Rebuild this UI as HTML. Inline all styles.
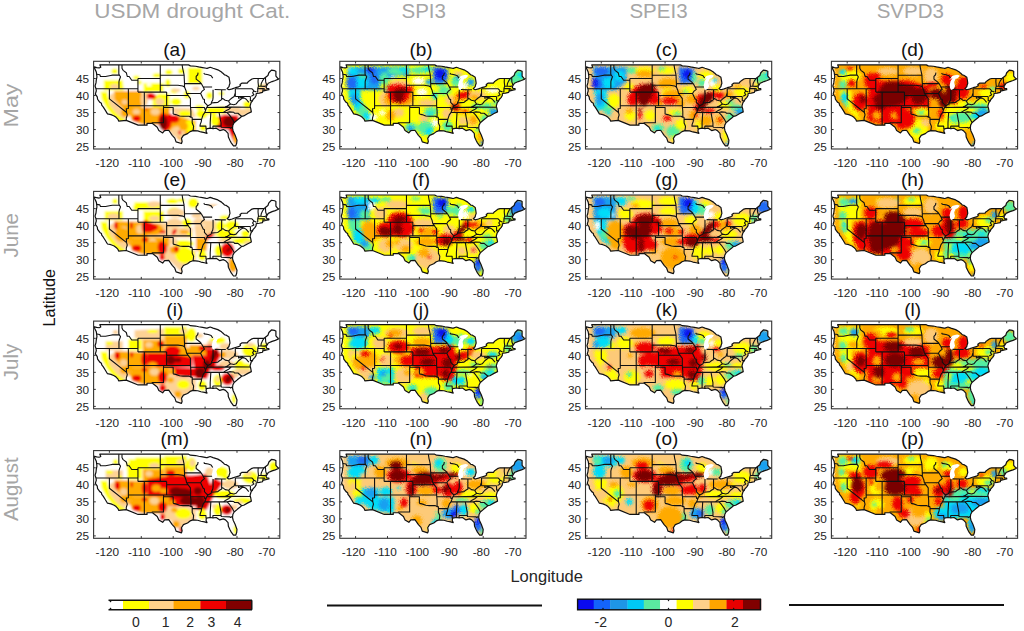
<!DOCTYPE html><html><head><meta charset="utf-8"><style>
html,body{margin:0;padding:0;background:#fff;width:1024px;height:631px;overflow:hidden}
svg{display:block;font-family:"Liberation Sans",sans-serif}
.t{font-size:11.8px;fill:#262626}#ol,#lk,#st{vector-effect:non-scaling-stroke}
.pl{font-size:19px;fill:#111}
.ct{font-size:20.5px;fill:#a6a6a6}
</style></head><body>
<svg width="1024" height="631" viewBox="0 0 1024 631">
<defs>
<clipPath id="us" clipPathUnits="userSpaceOnUse"><path d="M-124.7,48.4 -124.6,47.9 -124.1,46.9 -124,46.3 -123.9,45.5 -124.1,44.6 -124.2,43.7 -124.5,42.8 -124.2,42 -124.1,41.4 -124.4,40.4 -123.8,39.6 -123.7,38.9 -123,38 -122.5,37.7 -122.4,37.2 -121.9,36.6 -121.3,35.7 -120.6,34.6 -119.5,34.4 -118.5,34 -117.9,33.6 -117.3,33 -117.1,32.5 -114.7,32.7 -111,31.3 -108.2,31.3 -108.2,31.8 -106.5,31.8 -105,30.7 -104.5,29.7 -103.3,29 -102.7,29.7 -101.4,29.8 -100.3,28.3 -99.5,27.5 -99.1,26.4 -97.4,25.9 -97.2,26.5 -97.4,27.4 -96.8,28.3 -95.5,28.8 -94.7,29.4 -93.8,29.7 -92.3,29.6 -91.3,29.3 -90.2,29.1 -89.4,28.9 -89.7,29.5 -89.6,30.2 -88.4,30.4 -87.5,30.3 -86.5,30.4 -85.4,29.7 -84.3,30 -83.6,29.7 -82.8,28.9 -82.7,27.8 -82.2,26.8 -81.8,26.1 -81.1,25.2 -80.4,25.2 -80.1,26 -80,26.9 -80.6,28.4 -81.2,29.6 -81.4,30.4 -81.3,31.3 -80.9,32 -79.9,32.8 -79.1,33.4 -78.5,33.9 -77.9,34 -76.6,34.7 -75.5,35.2 -75.7,36.2 -75.9,36.9 -75.6,37.9 -75.1,38.5 -75,38.8 -74.9,38.9 -74.4,39.4 -74,40 -74,40.5 -73.9,40.6 -73,40.7 -72,40.9 -71.9,41.3 -71,41.5 -70.7,41.6 -70,41.7 -70,42 -70.6,42 -70.9,42.5 -70.6,43 -70.2,43.6 -69,44.1 -68,44.4 -67,44.8 -67.8,45.7 -67.8,47.1 -68.2,47.3 -69.2,47.45 -70,46.7 -70.3,45.9 -71.1,45.3 -71.5,45 -74.7,45 -75.3,44.85 -76.2,44.25 -76.45,44.1 -76.8,43.65 -77.5,43.63 -78.5,43.63 -79.05,43.26 -78.9,42.9 -79.5,42.55 -80.5,42.3 -81.5,41.95 -82.5,41.7 -83.1,42 -82.5,42.6 -82.42,43 -82.2,43.6 -82.3,44.3 -82.5,45.35 -83.45,45.95 -83.9,46.05 -84.1,46.25 -84.35,46.5 -84.55,46.6 -84.85,46.9 -86,47.55 -87.5,48 -88.4,48.3 -89.35,47.97 -89.6,48 -90.8,48.2 -92,48.4 -93,48.6 -94.6,48.7 -95.2,49 -123,49 -122.7,48.3 -123.2,48.1 -124,48.2Z"/></clipPath>
<path id="ol" d="M-124.7,48.4 -124.6,47.9 -124.1,46.9 -124,46.3 -123.9,45.5 -124.1,44.6 -124.2,43.7 -124.5,42.8 -124.2,42 -124.1,41.4 -124.4,40.4 -123.8,39.6 -123.7,38.9 -123,38 -122.5,37.7 -122.4,37.2 -121.9,36.6 -121.3,35.7 -120.6,34.6 -119.5,34.4 -118.5,34 -117.9,33.6 -117.3,33 -117.1,32.5 -114.7,32.7 -111,31.3 -108.2,31.3 -108.2,31.8 -106.5,31.8 -105,30.7 -104.5,29.7 -103.3,29 -102.7,29.7 -101.4,29.8 -100.3,28.3 -99.5,27.5 -99.1,26.4 -97.4,25.9 -97.2,26.5 -97.4,27.4 -96.8,28.3 -95.5,28.8 -94.7,29.4 -93.8,29.7 -92.3,29.6 -91.3,29.3 -90.2,29.1 -89.4,28.9 -89.7,29.5 -89.6,30.2 -88.4,30.4 -87.5,30.3 -86.5,30.4 -85.4,29.7 -84.3,30 -83.6,29.7 -82.8,28.9 -82.7,27.8 -82.2,26.8 -81.8,26.1 -81.1,25.2 -80.4,25.2 -80.1,26 -80,26.9 -80.6,28.4 -81.2,29.6 -81.4,30.4 -81.3,31.3 -80.9,32 -79.9,32.8 -79.1,33.4 -78.5,33.9 -77.9,34 -76.6,34.7 -75.5,35.2 -75.7,36.2 -75.9,36.9 -75.6,37.9 -75.1,38.5 -75,38.8 -74.9,38.9 -74.4,39.4 -74,40 -74,40.5 -73.9,40.6 -73,40.7 -72,40.9 -71.9,41.3 -71,41.5 -70.7,41.6 -70,41.7 -70,42 -70.6,42 -70.9,42.5 -70.6,43 -70.2,43.6 -69,44.1 -68,44.4 -67,44.8 -67.8,45.7 -67.8,47.1 -68.2,47.3 -69.2,47.45 -70,46.7 -70.3,45.9 -71.1,45.3 -71.5,45 -74.7,45 -75.3,44.85 -76.2,44.25 -76.45,44.1 -76.8,43.65 -77.5,43.63 -78.5,43.63 -79.05,43.26 -78.9,42.9 -79.5,42.55 -80.5,42.3 -81.5,41.95 -82.5,41.7 -83.1,42 -82.5,42.6 -82.42,43 -82.2,43.6 -82.3,44.3 -82.5,45.35 -83.45,45.95 -83.9,46.05 -84.1,46.25 -84.35,46.5 -84.55,46.6 -84.85,46.9 -86,47.55 -87.5,48 -88.4,48.3 -89.35,47.97 -89.6,48 -90.8,48.2 -92,48.4 -93,48.6 -94.6,48.7 -95.2,49 -123,49 -122.7,48.3 -123.2,48.1 -124,48.2Z"/>
<path id="lk" d="M-84.75,45.78 -85,45.45 -85.5,45 -86,44.9 -86.45,43.95 -86.3,43.2 -86.2,42.8 -86.5,42.1 -86.9,41.7 -87.3,41.6 -87.6,41.85 -87.8,42.35 -87.9,43.05 -87.7,43.75 -87.65,44.1 -86.95,45.25 -87.6,44.8 -88,44.55 -87.6,45.1 -87.05,45.75 -86.25,45.95 -85.5,46.1 -84.75,45.9Z"/>
<path id="st" d="M-124,46.25 -123,46.1 -122.8,45.6 -121.2,45.6 -119.6,45.9 -119,46 -116.9,46M-116.9,46 -116.5,45.5 -116.9,44.5 -117,44 -117,42M-117.04,49 -117.04,46.4 -116.9,46M-124.2,42 -111.05,42M-120,42 -120,39 -114.6,35M-114.05,42 -114.05,36.2 -114.7,36.1 -114.6,35 -114.4,34.3 -114.7,33.4 -114.7,32.7M-116.05,49 -116.05,48 -115.7,47.4 -114.7,46.7 -114.4,45.6 -113.8,45.6 -113,44.5 -112.3,44.5 -111.05,44.5M-111.05,45 -111.05,41M-111.05,45 -104.05,45M-111.05,41 -102.05,41M-109.05,41 -109.05,31.33M-114.05,37 -94.6,37M-104.05,49 -104.05,41M-104.05,45.94 -96.56,45.94M-104.05,43 -98.5,43 -97,42.8 -96.45,42.5M-102.05,40 -95.3,40M-102.05,41 -102.05,37M-103,37 -103,36.5 -100,36.5 -100,34.56M-103.05,36.5 -103.05,32 -106.6,32 -106.6,31.85M-100,34.56 -99.2,34.4 -98,34 -96.9,33.9 -95,33.9 -94.5,33.6 -94.04,33.6M-94.04,33.6 -94.04,31.9 -93.6,31 -93.7,30.1 -93.8,29.7M-94.04,33 -91.1,33M-91.1,33 -91.2,32.3 -91.5,31.6 -91.6,31 -89.75,31 -89.7,30.2M-94.6,37 -94.45,35.4 -94.45,33.6M-94.6,36.5 -90.15,36.5 -90.1,36 -89.7,36M-94.6,37 -94.6,39.1 -95,39.6 -95.3,40M-95.3,40 -95.8,40.6 -96,41.5 -96.45,42.5M-96.45,42.5 -96.45,43.5 -96.55,45.3 -96.56,45.94M-96.56,45.94 -96.8,47 -97,47.8 -97.2,49M-96.45,43.5 -91.2,43.5M-95.8,40.6 -91.4,40.6M-91.4,40.6 -91.1,40 -90.6,39 -90.2,38.8 -90.2,38 -89.5,37.3 -89.1,37M-91.4,40.6 -91,41.2 -90.2,41.8 -90.6,42.5 -91.2,43.5M-91.2,43.5 -91.7,44 -92.8,44.8 -92.8,45.6 -92.3,46.1 -92.2,46.7M-90.6,42.5 -87.8,42.5M-90.4,46.6 -90.2,46.3 -89,46.1 -88.1,45.8 -87.6,45.1M-87.5,41.7 -87.5,39.4 -87.6,38.7 -88,38 -88.1,37.5M-88.1,37.5 -89.1,37M-88.1,37.8 -87,37.9 -86,38 -85.5,38.4 -84.8,38.8 -84.8,39.1M-84.82,39.1 -84.8,41.7M-87,41.76 -84.8,41.7M-84.8,41.7 -83.5,41.7M-84.8,39.1 -84.4,39.1 -83.7,38.6 -82.6,38.4M-82.6,38.4 -82.2,38.8 -81.7,39.2 -80.9,39.7 -80.6,40.6M-80.52,40.6 -80.52,42M-82.6,38.4 -82.4,37.9 -82,37.5 -83,36.9 -83.7,36.6M-89.5,36.5 -81.7,36.6M-89.1,37 -89.5,36.5 -89.7,36 -90.1,35 -90.6,34.4 -91.1,33M-90.3,35 -84.3,35M-88.2,35 -88.4,32 -88.4,30.4M-85.6,35 -85.2,32.9 -85,32 -85,31M-87.6,31 -85,31M-87.6,31 -87.5,30.3M-85,31 -84.9,30.7 -82.2,30.6 -82,30.4 -81.5,30.7M-84.3,35 -83.5,35.5 -82.5,36 -81.7,36.6M-84.3,35 -83.1,35M-83.1,35 -82.4,34.3 -81.4,33 -80.9,32.1M-83.1,35 -82.3,35.2 -81,35.1 -80.8,34.8 -79.7,34.8 -78.5,33.85M-81.7,36.6 -75.9,36.55M-82,37.5 -81,37.3 -80.3,37.5 -79.5,38.4 -78.4,39.2 -77.8,39.3M-77.8,39.3 -78.5,39.5 -79.5,39.2 -79.5,39.72M-80.52,39.72 -79.5,39.72M-80.52,39.72 -80.52,40.6M-79.5,39.72 -75.8,39.72M-77.8,39.3 -77.1,38.9 -76.3,38M-75.8,39.72 -75.8,38.45 -75.05,38.45M-75.5,39.8 -74.7,40.2 -75.1,40.8 -74.7,41.35M-80.52,42 -75.35,42 -75.1,41.8 -74.7,41.35M-74.7,41.35 -73.9,41M-73.7,40.95 -73.5,41.1 -73.5,42.05 -73.26,42.75 -73.4,44 -73.35,45M-73.5,42.05 -71.8,42.02 -71.4,42 -71.1,41.5M-71.8,42.02 -71.85,41.33M-73.26,42.75 -72.5,42.73 -71.3,42.7 -70.8,42.87M-72.5,42.73 -72.4,43.5 -72,44.3 -71.5,45M-70.7,43.1 -71,44 -71.08,45.3"/>
<filter id="bl" x="-5%" y="-5%" width="110%" height="110%"><feGaussianBlur stdDeviation="0.9"/></filter>
<filter id="tx" x="-5%" y="-5%" width="110%" height="110%" color-interpolation-filters="sRGB"><feGaussianBlur stdDeviation="1.6" result="b"/><feTurbulence type="fractalNoise" baseFrequency="0.9" numOctaves="1" seed="7" result="n"/><feDisplacementMap in="b" in2="n" scale="5" xChannelSelector="R" yChannelSelector="G"/></filter>
</defs>
<g transform="translate(492.19,231.72) scale(3.19,-3.405)">
<g clip-path="url(#us)"><g transform="scale(0.31,-0.29) translate(-492.19,-231.72)" filter="url(#bl)">
<rect x="91.6" y="59.3" width="190.2" height="91.7" fill="#ffffff"/>
<path d="M99.48,78.35 118.65,78.35 119.57,88.39 99.48,88.39Z" fill="#ffff00"/>
<path d="M139.65,81.09 159.74,81.09 159.74,90.22 139.65,90.22Z" fill="#ffff00"/>
<path d="M184.39,65.57 199,65.57 199,82 184.39,82Z" fill="#ffff00"/>
<path d="M96.19,89.85 102.77,89.85 105.32,101.18 112.26,111.77 121.39,117.98 121.39,121.26 115.91,121.26 108.61,114.87 102.22,106.65 97.29,97.52Z" fill="#ffff00"/>
<path d="M104.96,93.87 110.44,90.22 110.44,97.52 125.04,113.96 119.57,117.61 112.26,112.13 104.96,103Z" fill="#fdd295"/>
<path d="M110.07,89.31 137.83,89.31 137.83,105.74 128.7,105.74 126.51,109.39 125.96,114.87 110.07,97.52Z" fill="#ffaa00"/>
<path d="M126.87,105.74 166.13,105.74 166.13,124 148.78,123.45 137.83,123.09 127.78,119.44 125.96,113.96Z" fill="#ffaa00"/>
<path d="M154.26,92.04 166.13,92.04 166.13,105.74 148.78,105.74 148.78,97.52Z" fill="#ffff00"/>
<path d="M165.22,105.74 188.96,106.65 192.61,115.78 179.83,115.78 172.52,113.96Z" fill="#fdd295"/>
<path d="M154.26,113.96 172.52,113.96 192.61,119.44 192.61,130.39 183.48,137.7 179.83,143.18 174.35,137.7 167.05,130.39 157.92,128.57Z" fill="#ffaa00"/>
<path d="M203.57,105.74 221.83,104.83 221.83,112.13 203.57,113.05Z" fill="#ffff00"/>
<path d="M221.83,105.74 238.27,104.83 234.61,111.22 221.83,111.22Z" fill="#fdd295"/>
<path d="M232.79,107.57 251.05,106.65 251.05,111.22 240.09,114.87 232.79,113.05Z" fill="#fdd295"/>
<path d="M212.7,115.78 221.83,113.05 234.61,113.96 238.27,121.26 236.44,126.74 234.61,141.35 230.05,139.52 225.48,128.57 218.18,127.65 212.7,125.83Z" fill="#ee0000"/>
<ellipse cx="145.13" cy="82.91" rx="2.74" ry="1.46" fill="#ffffff"/>
<ellipse cx="110.44" cy="69.22" rx="3.29" ry="2.74" fill="#ffff00"/>
<ellipse cx="132.35" cy="75.61" rx="3.29" ry="2.19" fill="#ffff00"/>
<ellipse cx="135.64" cy="80.72" rx="2.19" ry="2.19" fill="#ffff00"/>
<ellipse cx="153.35" cy="73.42" rx="4.57" ry="2.19" fill="#ffff00"/>
<ellipse cx="165.22" cy="70.13" rx="3.65" ry="2.74" fill="#ffff00"/>
<ellipse cx="178" cy="69.22" rx="3.65" ry="2.74" fill="#ffff00"/>
<ellipse cx="164.31" cy="81.09" rx="2.74" ry="4.02" fill="#ffff00"/>
<ellipse cx="170.7" cy="89.31" rx="3.65" ry="2.56" fill="#ffff00"/>
<ellipse cx="183.48" cy="92.96" rx="3.29" ry="4.02" fill="#ffff00"/>
<ellipse cx="172.52" cy="100.26" rx="5.48" ry="4.02" fill="#ffff00"/>
<ellipse cx="196.26" cy="105.74" rx="4.57" ry="2.56" fill="#ffff00"/>
<ellipse cx="198.09" cy="112.13" rx="5.48" ry="4.02" fill="#ffff00"/>
<ellipse cx="141.85" cy="92.04" rx="1.83" ry="1.83" fill="#ffff00"/>
<ellipse cx="181.66" cy="112.13" rx="6.39" ry="3.29" fill="#ffff00"/>
<ellipse cx="186.22" cy="124.92" rx="5.48" ry="6.39" fill="#ffff00"/>
<ellipse cx="199" cy="113.96" rx="5.11" ry="3.29" fill="#ffff00"/>
<ellipse cx="199.92" cy="126.74" rx="3.65" ry="3.29" fill="#ffff00"/>
<ellipse cx="211.79" cy="119.44" rx="4.57" ry="5.84" fill="#ffff00"/>
<ellipse cx="206.31" cy="93.87" rx="3.29" ry="3.65" fill="#ffff00"/>
<ellipse cx="218.18" cy="91.68" rx="3.29" ry="1.83" fill="#ffff00"/>
<ellipse cx="244.66" cy="103" rx="4.57" ry="4.02" fill="#ffff00"/>
<ellipse cx="210.87" cy="115.78" rx="2.74" ry="4.57" fill="#ffff00"/>
<ellipse cx="258.35" cy="84.74" rx="2.74" ry="2.74" fill="#ffff00"/>
<ellipse cx="110.44" cy="84.74" rx="4.57" ry="2.74" fill="#fdd295"/>
<ellipse cx="172.52" cy="88.39" rx="4.57" ry="1.83" fill="#fdd295"/>
<ellipse cx="192.61" cy="86.57" rx="3.65" ry="1.83" fill="#fdd295"/>
<ellipse cx="120.48" cy="100.26" rx="2.74" ry="2.56" fill="#fdd295"/>
<ellipse cx="140.57" cy="97.52" rx="3.65" ry="7.3" fill="#fdd295"/>
<ellipse cx="132.35" cy="110.31" rx="3.65" ry="2.56" fill="#fdd295"/>
<ellipse cx="151.52" cy="110.31" rx="4.57" ry="3.29" fill="#fdd295"/>
<ellipse cx="156.09" cy="100.26" rx="4.57" ry="4.02" fill="#fdd295"/>
<ellipse cx="174.35" cy="130.39" rx="7.3" ry="5.48" fill="#fdd295"/>
<ellipse cx="179.83" cy="137.7" rx="3.65" ry="4.57" fill="#fdd295"/>
<ellipse cx="262.01" cy="86.57" rx="7.3" ry="4.02" fill="#fdd295" transform="rotate(-40 262.01 86.57)"/>
<ellipse cx="121.39" cy="111.22" rx="4.57" ry="4.57" fill="#ffaa00"/>
<ellipse cx="232.79" cy="137.7" rx="2.74" ry="5.48" fill="#ffaa00"/>
<ellipse cx="179.83" cy="124.92" rx="4.57" ry="4.57" fill="#ffaa00"/>
<ellipse cx="132.71" cy="117.06" rx="4.02" ry="2.92" fill="#ee0000"/>
<ellipse cx="142.39" cy="108.11" rx="1.1" ry="1.28" fill="#ee0000"/>
<ellipse cx="148.78" cy="94.78" rx="3.29" ry="2.74" fill="#ee0000"/>
<ellipse cx="159.74" cy="119.44" rx="5.11" ry="8.22" fill="#ee0000"/>
<ellipse cx="166.13" cy="116.7" rx="3.29" ry="4.57" fill="#ee0000"/>
<ellipse cx="172.89" cy="117.61" rx="2.92" ry="3.29" fill="#ee0000"/>
<ellipse cx="176.18" cy="131.31" rx="1.46" ry="2.19" fill="#ee0000"/>
<ellipse cx="161.57" cy="129.48" rx="1.83" ry="1.83" fill="#ee0000"/>
<ellipse cx="161.57" cy="121.26" rx="6.39" ry="8.22" fill="#ee0000"/>
<ellipse cx="170.7" cy="117.61" rx="4.57" ry="4.02" fill="#ee0000"/>
<ellipse cx="146.59" cy="94.24" rx="3.65" ry="3.29" fill="#ee0000"/>
<ellipse cx="159.38" cy="122.18" rx="2.92" ry="5.84" fill="#7a0000"/>
<ellipse cx="226.4" cy="120.35" rx="6.39" ry="5.48" fill="#7a0000"/>
<ellipse cx="159.74" cy="121.26" rx="4.02" ry="6.94" fill="#7a0000"/>
</g></g>
<use href="#lk" fill="#fff"/>
<use href="#st" fill="none" stroke="#111" stroke-width="1.1" stroke-linejoin="round"/>
<use href="#ol" fill="none" stroke="#111" stroke-width="1.2" stroke-linejoin="round"/>
</g>
<rect x="93.6" y="61.3" width="186.2" height="87.7" fill="none" stroke="#333" stroke-width="1.1"/>
<path d="M109.39,61.3v2.2M109.39,149v-2.2M141.29,61.3v2.2M141.29,149v-2.2M173.19,61.3v2.2M173.19,149v-2.2M205.09,61.3v2.2M205.09,149v-2.2M236.99,61.3v2.2M236.99,149v-2.2M268.89,61.3v2.2M268.89,149v-2.2M93.6,146.6h2.2M279.8,146.6h-2.2M93.6,129.57h2.2M279.8,129.57h-2.2M93.6,112.55h2.2M279.8,112.55h-2.2M93.6,95.52h2.2M279.8,95.52h-2.2M93.6,78.5h2.2M279.8,78.5h-2.2" stroke="#333" stroke-width="1" fill="none"/>
<text class="t" x="107.39" y="166.8" text-anchor="middle">-120</text>
<text class="t" x="139.29" y="166.8" text-anchor="middle">-110</text>
<text class="t" x="171.19" y="166.8" text-anchor="middle">-100</text>
<text class="t" x="203.09" y="166.8" text-anchor="middle">-90</text>
<text class="t" x="234.99" y="166.8" text-anchor="middle">-80</text>
<text class="t" x="266.89" y="166.8" text-anchor="middle">-70</text>
<text class="t" x="89.1" y="150.8" text-anchor="end">25</text>
<text class="t" x="89.1" y="133.77" text-anchor="end">30</text>
<text class="t" x="89.1" y="116.75" text-anchor="end">35</text>
<text class="t" x="89.1" y="99.72" text-anchor="end">40</text>
<text class="t" x="89.1" y="82.7" text-anchor="end">45</text>
<text class="pl" x="174.8" y="55.8" text-anchor="middle">(a)</text>
<g transform="translate(738.39,231.72) scale(3.19,-3.405)">
<g clip-path="url(#us)"><g transform="scale(0.31,-0.29) translate(-738.39,-231.72)" filter="url(#tx)">
<rect x="337.8" y="59.3" width="190.2" height="91.7" fill="#ffff00"/>
<path d="M342.74,64.65 405.74,64.65 405.74,73.78 383.83,78.35 383.83,88.39 365.57,88.39 343.65,88.39Z" fill="#18a0f0"/>
<path d="M343.65,88.39 356.44,88.39 356.44,97.52 365.57,112.13 367.39,119.44 361.91,119.44 350.96,108.48 344.57,95.7Z" fill="#00dcf8"/>
<path d="M429.48,64.65 445,66.48 445,75.61 442.26,81.09 431.31,82 429.48,75.61Z" fill="#1e6af5"/>
<ellipse cx="345.48" cy="68.3" rx="1.83" ry="2.74" fill="#ffffff"/>
<ellipse cx="389.31" cy="75.61" rx="2.74" ry="1.46" fill="#ffffff"/>
<ellipse cx="363.74" cy="103" rx="2.74" ry="2.19" fill="#ffffff"/>
<ellipse cx="369.22" cy="93.87" rx="2.19" ry="1.83" fill="#ffffff"/>
<ellipse cx="369.22" cy="115.78" rx="4.02" ry="3.29" fill="#ffffff"/>
<ellipse cx="378.35" cy="111.22" rx="2.74" ry="2.74" fill="#ffffff"/>
<ellipse cx="414.87" cy="79.26" rx="6.39" ry="3.65" fill="#ffffff"/>
<ellipse cx="418.52" cy="90.22" rx="5.48" ry="3.65" fill="#ffffff"/>
<ellipse cx="461.44" cy="83.83" rx="3.29" ry="3.29" fill="#ffffff"/>
<ellipse cx="431.31" cy="121.26" rx="3.65" ry="3.65" fill="#ffffff"/>
<ellipse cx="489.74" cy="88.39" rx="7.3" ry="2.74" fill="#ffffff"/>
<ellipse cx="358.26" cy="73.78" rx="4.57" ry="2.74" fill="#55eea0"/>
<ellipse cx="380.18" cy="77.44" rx="4.57" ry="7.3" fill="#55eea0"/>
<ellipse cx="392.96" cy="69.22" rx="10.04" ry="3.65" fill="#55eea0"/>
<ellipse cx="379.26" cy="84.74" rx="3.65" ry="2.74" fill="#ffff00"/>
<ellipse cx="396.61" cy="75.61" rx="6.39" ry="2.19" fill="#ffff00"/>
<ellipse cx="358.26" cy="108.48" rx="4.57" ry="4.57" fill="#55eea0"/>
<ellipse cx="365.57" cy="97.52" rx="8.22" ry="8.22" fill="#ffff00"/>
<ellipse cx="416.7" cy="68.3" rx="10.04" ry="3.65" fill="#55eea0"/>
<ellipse cx="420.35" cy="71.96" rx="3.65" ry="1.46" fill="#ffff00"/>
<ellipse cx="436.79" cy="82.91" rx="4.57" ry="1.83" fill="#55eea0"/>
<ellipse cx="453.22" cy="79.26" rx="5.48" ry="5.48" fill="#55eea0"/>
<ellipse cx="441.35" cy="89.31" rx="6.39" ry="4.57" fill="#55eea0"/>
<ellipse cx="445" cy="92.96" rx="2.74" ry="1.83" fill="#ffff00"/>
<ellipse cx="473.31" cy="104.83" rx="6.39" ry="2.74" fill="#55eea0"/>
<ellipse cx="466" cy="104.83" rx="3.65" ry="1.83" fill="#ffff00"/>
<ellipse cx="427.66" cy="110.31" rx="7.3" ry="4.57" fill="#55eea0"/>
<ellipse cx="407.57" cy="125.83" rx="6.39" ry="4.57" fill="#55eea0"/>
<ellipse cx="422.18" cy="126.74" rx="8.22" ry="7.3" fill="#55eea0"/>
<ellipse cx="444.09" cy="124.92" rx="5.48" ry="5.48" fill="#55eea0"/>
<ellipse cx="481.53" cy="118.52" rx="3.65" ry="5.48" fill="#55eea0"/>
<ellipse cx="484.27" cy="104.83" rx="5.48" ry="3.29" fill="#55eea0"/>
<ellipse cx="475.14" cy="128.57" rx="2.74" ry="2.19" fill="#55eea0"/>
<ellipse cx="513.48" cy="75.61" rx="8.22" ry="6.39" fill="#55eea0"/>
<ellipse cx="505.27" cy="90.22" rx="3.65" ry="4.57" fill="#ffff00"/>
<ellipse cx="493.4" cy="101.18" rx="3.65" ry="2.19" fill="#55eea0"/>
<ellipse cx="356.44" cy="81.09" rx="7.3" ry="5.48" fill="#00dcf8"/>
<ellipse cx="349.13" cy="69.22" rx="4.57" ry="3.65" fill="#00dcf8"/>
<ellipse cx="400.26" cy="67.39" rx="5.48" ry="2.19" fill="#00dcf8"/>
<ellipse cx="382" cy="97.52" rx="7.3" ry="8.22" fill="#fdca78"/>
<ellipse cx="395.7" cy="83.83" rx="10.96" ry="6.39" fill="#fdca78"/>
<ellipse cx="405.74" cy="100.26" rx="5.48" ry="4.57" fill="#fdca78"/>
<ellipse cx="394.78" cy="111.22" rx="5.48" ry="4.57" fill="#fdca78"/>
<ellipse cx="424" cy="66.48" rx="4.57" ry="2.19" fill="#00dcf8"/>
<ellipse cx="431.31" cy="93.87" rx="2.74" ry="3.65" fill="#00dcf8"/>
<ellipse cx="424" cy="101.18" rx="10.04" ry="3.65" fill="#fdca78"/>
<ellipse cx="455.05" cy="71.04" rx="5.48" ry="2.19" fill="#fdca78"/>
<ellipse cx="447.74" cy="98.44" rx="6.39" ry="4.57" fill="#fdca78"/>
<ellipse cx="474.22" cy="93.87" rx="10.04" ry="4.57" fill="#fdca78"/>
<ellipse cx="444.09" cy="112.13" rx="5.48" ry="5.11" fill="#fdca78"/>
<ellipse cx="425.83" cy="113.05" rx="3.65" ry="2.19" fill="#00dcf8"/>
<ellipse cx="425.83" cy="130.39" rx="3.65" ry="3.65" fill="#00dcf8"/>
<ellipse cx="420.35" cy="116.7" rx="4.57" ry="3.65" fill="#fdca78"/>
<ellipse cx="459.61" cy="119.44" rx="4.57" ry="4.57" fill="#fdca78"/>
<ellipse cx="469.66" cy="119.44" rx="5.48" ry="5.48" fill="#fdca78"/>
<ellipse cx="489.74" cy="111.22" rx="3.65" ry="2.19" fill="#00dcf8"/>
<ellipse cx="518.96" cy="71.96" rx="3.65" ry="3.65" fill="#00dcf8"/>
<ellipse cx="350.04" cy="97.52" rx="4.57" ry="5.48" fill="#18a0f0"/>
<ellipse cx="384.74" cy="97.52" rx="4.57" ry="5.48" fill="#ffaa00"/>
<ellipse cx="394.78" cy="88.39" rx="8.22" ry="5.48" fill="#ffaa00"/>
<ellipse cx="400.26" cy="95.7" rx="10.96" ry="8.22" fill="#ffaa00"/>
<ellipse cx="386.57" cy="113.96" rx="4.57" ry="5.48" fill="#ffaa00"/>
<ellipse cx="425.83" cy="80.17" rx="3.65" ry="2.74" fill="#18a0f0"/>
<ellipse cx="467.83" cy="80.17" rx="3.65" ry="3.65" fill="#18a0f0"/>
<ellipse cx="455.05" cy="75.61" rx="3.29" ry="1.83" fill="#18a0f0"/>
<ellipse cx="453.22" cy="96.61" rx="2.74" ry="4.57" fill="#ffaa00"/>
<ellipse cx="453.22" cy="103" rx="4.57" ry="2.74" fill="#ffaa00"/>
<ellipse cx="471.48" cy="95.7" rx="3.65" ry="2.74" fill="#ffaa00"/>
<ellipse cx="460.53" cy="110.31" rx="8.22" ry="2.19" fill="#ffaa00"/>
<ellipse cx="406.65" cy="127.65" rx="3.65" ry="2.74" fill="#18a0f0"/>
<ellipse cx="470.57" cy="118.52" rx="3.65" ry="4.57" fill="#ffaa00"/>
<ellipse cx="491.57" cy="110.31" rx="5.48" ry="3.65" fill="#18a0f0"/>
<ellipse cx="476.96" cy="135.87" rx="2.74" ry="4.57" fill="#ffaa00"/>
<ellipse cx="480.61" cy="144.09" rx="1.83" ry="2.19" fill="#18a0f0"/>
<ellipse cx="385.65" cy="97.52" rx="4.57" ry="6.39" fill="#ffaa00"/>
<ellipse cx="360.09" cy="69.22" rx="4.57" ry="3.29" fill="#18a0f0"/>
<ellipse cx="347.3" cy="81.09" rx="5.48" ry="6.39" fill="#1e6af5"/>
<ellipse cx="367.39" cy="68.3" rx="5.48" ry="4.02" fill="#1e6af5"/>
<ellipse cx="371.04" cy="77.44" rx="3.65" ry="4.57" fill="#1e6af5"/>
<ellipse cx="394.78" cy="92.96" rx="8.22" ry="8.22" fill="#ee0000"/>
<ellipse cx="403.92" cy="87.48" rx="6.39" ry="3.29" fill="#ee0000"/>
<ellipse cx="459.61" cy="93.87" rx="5.48" ry="4.02" fill="#ee0000"/>
<ellipse cx="464.18" cy="91.13" rx="2.74" ry="2.19" fill="#ee0000"/>
<ellipse cx="452.31" cy="105.74" rx="4.57" ry="3.65" fill="#ee0000"/>
<ellipse cx="462.35" cy="109.39" rx="2.74" ry="1.46" fill="#ee0000"/>
<ellipse cx="394.78" cy="92.04" rx="10.96" ry="10.04" fill="#ee0000"/>
<ellipse cx="387.48" cy="86.57" rx="4.57" ry="3.65" fill="#ee0000"/>
<ellipse cx="345.48" cy="81.09" rx="3.29" ry="5.48" fill="#1e6af5"/>
<ellipse cx="369.22" cy="75.61" rx="3.29" ry="5.48" fill="#1e6af5"/>
<ellipse cx="479.7" cy="143.18" rx="2.19" ry="3.29" fill="#1e6af5"/>
<ellipse cx="365.57" cy="67.39" rx="2.74" ry="2.19" fill="#0a14ee"/>
<ellipse cx="394.78" cy="94.78" rx="4.57" ry="6.39" fill="#7a0000"/>
<ellipse cx="399.35" cy="88.39" rx="3.29" ry="2.74" fill="#7a0000"/>
<ellipse cx="436.79" cy="71.96" rx="5.11" ry="5.48" fill="#0a14ee"/>
<ellipse cx="451.4" cy="106.29" rx="2.74" ry="2.19" fill="#7a0000"/>
<ellipse cx="394.78" cy="93.87" rx="5.48" ry="7.3" fill="#7a0000"/>
</g></g>
<use href="#lk" fill="#fff"/>
<use href="#st" fill="none" stroke="#111" stroke-width="1.1" stroke-linejoin="round"/>
<use href="#ol" fill="none" stroke="#111" stroke-width="1.2" stroke-linejoin="round"/>
</g>
<rect x="339.8" y="61.3" width="186.2" height="87.7" fill="none" stroke="#333" stroke-width="1.1"/>
<path d="M355.59,61.3v2.2M355.59,149v-2.2M387.49,61.3v2.2M387.49,149v-2.2M419.39,61.3v2.2M419.39,149v-2.2M451.29,61.3v2.2M451.29,149v-2.2M483.19,61.3v2.2M483.19,149v-2.2M515.09,61.3v2.2M515.09,149v-2.2M339.8,146.6h2.2M526,146.6h-2.2M339.8,129.57h2.2M526,129.57h-2.2M339.8,112.55h2.2M526,112.55h-2.2M339.8,95.52h2.2M526,95.52h-2.2M339.8,78.5h2.2M526,78.5h-2.2" stroke="#333" stroke-width="1" fill="none"/>
<text class="t" x="353.59" y="166.8" text-anchor="middle">-120</text>
<text class="t" x="385.49" y="166.8" text-anchor="middle">-110</text>
<text class="t" x="417.39" y="166.8" text-anchor="middle">-100</text>
<text class="t" x="449.29" y="166.8" text-anchor="middle">-90</text>
<text class="t" x="481.19" y="166.8" text-anchor="middle">-80</text>
<text class="t" x="513.09" y="166.8" text-anchor="middle">-70</text>
<text class="t" x="335.3" y="150.8" text-anchor="end">25</text>
<text class="t" x="335.3" y="133.77" text-anchor="end">30</text>
<text class="t" x="335.3" y="116.75" text-anchor="end">35</text>
<text class="t" x="335.3" y="99.72" text-anchor="end">40</text>
<text class="t" x="335.3" y="82.7" text-anchor="end">45</text>
<text class="pl" x="421" y="55.8" text-anchor="middle">(b)</text>
<g transform="translate(984.09,231.72) scale(3.19,-3.405)">
<g clip-path="url(#us)"><g transform="scale(0.31,-0.29) translate(-984.09,-231.72)" filter="url(#tx)">
<rect x="583.5" y="59.3" width="190.2" height="91.7" fill="#fdca78"/>
<path d="M588.74,64.65 622.52,64.65 622.52,79.26 611.57,88.39 589.65,88.39Z" fill="#18a0f0"/>
<path d="M589.65,88.39 602.44,88.39 602.44,97.52 611.57,110.31 607.91,115.78 596.96,108.48 590.57,95.7Z" fill="#00dcf8"/>
<path d="M675.48,64.65 691,66.48 691,75.61 688.26,81.09 677.31,82 675.48,75.61Z" fill="#1e6af5"/>
<ellipse cx="709.27" cy="81.09" rx="3.65" ry="4.02" fill="#ffffff"/>
<ellipse cx="592.39" cy="95.7" rx="1.46" ry="2.74" fill="#ffffff"/>
<ellipse cx="628" cy="68.3" rx="5.48" ry="3.29" fill="#55eea0"/>
<ellipse cx="640.78" cy="68.3" rx="10.04" ry="3.29" fill="#ffff00"/>
<ellipse cx="625.26" cy="84.74" rx="4.57" ry="3.29" fill="#ffff00"/>
<ellipse cx="603.35" cy="106.65" rx="4.57" ry="3.65" fill="#55eea0"/>
<ellipse cx="609.74" cy="99.35" rx="6.39" ry="7.3" fill="#ffff00"/>
<ellipse cx="626.18" cy="113.96" rx="5.48" ry="5.48" fill="#ffff00"/>
<ellipse cx="646.26" cy="113.96" rx="5.48" ry="5.48" fill="#ffff00"/>
<ellipse cx="662.7" cy="68.3" rx="9.13" ry="3.65" fill="#ffff00"/>
<ellipse cx="658.13" cy="66.48" rx="3.65" ry="1.83" fill="#55eea0"/>
<ellipse cx="662.7" cy="79.26" rx="7.3" ry="2.74" fill="#ffff00"/>
<ellipse cx="664.52" cy="91.13" rx="6.39" ry="4.57" fill="#ffff00"/>
<ellipse cx="691" cy="75.61" rx="2.74" ry="5.48" fill="#55eea0"/>
<ellipse cx="702.87" cy="73.78" rx="7.3" ry="4.57" fill="#ffff00"/>
<ellipse cx="699.22" cy="81.09" rx="4.57" ry="3.65" fill="#55eea0"/>
<ellipse cx="713.83" cy="86.57" rx="4.57" ry="3.65" fill="#ffff00"/>
<ellipse cx="684.61" cy="88.39" rx="6.39" ry="4.02" fill="#ffff00"/>
<ellipse cx="681.87" cy="90.22" rx="2.74" ry="1.83" fill="#55eea0"/>
<ellipse cx="722.96" cy="103" rx="7.3" ry="3.65" fill="#ffff00"/>
<ellipse cx="727.53" cy="100.26" rx="3.65" ry="2.19" fill="#55eea0"/>
<ellipse cx="671.83" cy="111.22" rx="7.3" ry="3.65" fill="#ffff00"/>
<ellipse cx="673.66" cy="112.13" rx="3.65" ry="1.83" fill="#55eea0"/>
<ellipse cx="654.48" cy="126.74" rx="6.39" ry="4.02" fill="#55eea0"/>
<ellipse cx="670" cy="130.39" rx="7.3" ry="6.39" fill="#55eea0"/>
<ellipse cx="677.31" cy="123.09" rx="5.48" ry="5.48" fill="#ffff00"/>
<ellipse cx="671.83" cy="137.7" rx="3.65" ry="3.65" fill="#ffff00"/>
<ellipse cx="695.57" cy="123.09" rx="3.65" ry="4.57" fill="#ffff00"/>
<ellipse cx="727.53" cy="115.78" rx="4.57" ry="4.57" fill="#55eea0"/>
<ellipse cx="733.01" cy="105.74" rx="7.3" ry="2.74" fill="#55eea0"/>
<ellipse cx="722.96" cy="134.05" rx="3.29" ry="6.39" fill="#ffff00"/>
<ellipse cx="739.4" cy="90.22" rx="8.22" ry="5.48" fill="#ffff00"/>
<ellipse cx="759.48" cy="75.61" rx="8.22" ry="5.48" fill="#55eea0"/>
<ellipse cx="755.83" cy="84.74" rx="3.65" ry="3.65" fill="#ffff00"/>
<ellipse cx="604.26" cy="81.09" rx="6.39" ry="5.48" fill="#00dcf8"/>
<ellipse cx="615.22" cy="73.78" rx="5.48" ry="5.48" fill="#00dcf8"/>
<ellipse cx="640.78" cy="74.7" rx="10.04" ry="2.74" fill="#fdca78"/>
<ellipse cx="611.57" cy="112.13" rx="5.48" ry="4.57" fill="#fdca78"/>
<ellipse cx="712" cy="78.35" rx="2.19" ry="1.83" fill="#00dcf8"/>
<ellipse cx="653.57" cy="127.65" rx="2.74" ry="1.83" fill="#00dcf8"/>
<ellipse cx="765.88" cy="71.96" rx="2.74" ry="3.65" fill="#00dcf8"/>
<ellipse cx="593.3" cy="103" rx="2.74" ry="7.3" fill="#00dcf8"/>
<ellipse cx="595.13" cy="97.52" rx="4.02" ry="6.39" fill="#18a0f0"/>
<ellipse cx="655.39" cy="101.18" rx="3.65" ry="3.65" fill="#ffaa00"/>
<ellipse cx="625.26" cy="109.39" rx="3.65" ry="2.56" fill="#ffaa00"/>
<ellipse cx="659.96" cy="83.83" rx="4.57" ry="2.74" fill="#ffaa00"/>
<ellipse cx="671.83" cy="92.96" rx="5.48" ry="3.65" fill="#ffaa00"/>
<ellipse cx="677.31" cy="101.18" rx="4.57" ry="3.65" fill="#ffaa00"/>
<ellipse cx="691.92" cy="97.52" rx="3.65" ry="3.65" fill="#ffaa00"/>
<ellipse cx="725.7" cy="92.96" rx="4.57" ry="4.02" fill="#ffaa00"/>
<ellipse cx="690.09" cy="113.96" rx="4.57" ry="4.57" fill="#ffaa00"/>
<ellipse cx="702.87" cy="119.44" rx="6.39" ry="5.48" fill="#ffaa00"/>
<ellipse cx="716.57" cy="118.52" rx="4.57" ry="4.57" fill="#ffaa00"/>
<ellipse cx="737.57" cy="110.31" rx="5.48" ry="3.29" fill="#18a0f0"/>
<ellipse cx="726.61" cy="144.09" rx="1.83" ry="2.19" fill="#18a0f0"/>
<ellipse cx="734.83" cy="84.74" rx="3.65" ry="1.83" fill="#ffaa00"/>
<ellipse cx="725.7" cy="143.18" rx="2.19" ry="3.29" fill="#18a0f0"/>
<ellipse cx="664.52" cy="81.09" rx="10.04" ry="5.11" fill="#ffaa00"/>
<ellipse cx="670" cy="92.96" rx="10.96" ry="5.11" fill="#ffaa00"/>
<ellipse cx="640.78" cy="71.96" rx="9.13" ry="3.65" fill="#ffaa00"/>
<ellipse cx="688.26" cy="97.52" rx="5.48" ry="4.57" fill="#ffaa00"/>
<ellipse cx="596.96" cy="69.22" rx="7.3" ry="4.57" fill="#1e6af5"/>
<ellipse cx="594.22" cy="82" rx="3.65" ry="4.57" fill="#1e6af5"/>
<ellipse cx="641.7" cy="86.57" rx="10.04" ry="4.57" fill="#ee0000"/>
<ellipse cx="629.83" cy="97.52" rx="5.48" ry="6.39" fill="#ee0000"/>
<ellipse cx="649.92" cy="97.52" rx="6.39" ry="5.48" fill="#ee0000"/>
<ellipse cx="636.22" cy="112.13" rx="1.83" ry="6.39" fill="#ee0000"/>
<ellipse cx="666.35" cy="99.35" rx="8.22" ry="3.65" fill="#ee0000"/>
<ellipse cx="697.4" cy="99.35" rx="4.57" ry="7.3" fill="#ee0000"/>
<ellipse cx="708.35" cy="92.96" rx="4.57" ry="3.29" fill="#ee0000"/>
<ellipse cx="706.53" cy="109.39" rx="5.48" ry="2.56" fill="#ee0000"/>
<ellipse cx="716.57" cy="93.87" rx="4.57" ry="3.65" fill="#ee0000"/>
<ellipse cx="692.83" cy="113.96" rx="1.83" ry="1.46" fill="#ee0000"/>
<ellipse cx="663.61" cy="116.7" rx="4.02" ry="2.74" fill="#ee0000"/>
<ellipse cx="717.48" cy="118.52" rx="2.19" ry="2.19" fill="#ee0000"/>
<ellipse cx="640.78" cy="92.04" rx="13.7" ry="10.04" fill="#ee0000"/>
<ellipse cx="628" cy="97.52" rx="4.57" ry="6.39" fill="#ee0000"/>
<ellipse cx="695.57" cy="106.65" rx="5.48" ry="3.65" fill="#ee0000"/>
<ellipse cx="590.57" cy="81.09" rx="2.74" ry="5.48" fill="#0a14ee"/>
<ellipse cx="644.44" cy="87.48" rx="7.3" ry="3.65" fill="#7a0000"/>
<ellipse cx="639.87" cy="97.52" rx="5.48" ry="7.3" fill="#7a0000"/>
<ellipse cx="636.22" cy="108.48" rx="1.1" ry="2.74" fill="#7a0000"/>
<ellipse cx="683.7" cy="71.96" rx="4.02" ry="4.57" fill="#0a14ee"/>
<ellipse cx="704.7" cy="95.7" rx="5.48" ry="5.48" fill="#7a0000"/>
<ellipse cx="697.4" cy="106.65" rx="4.57" ry="3.65" fill="#7a0000"/>
<ellipse cx="640.78" cy="91.13" rx="8.22" ry="8.22" fill="#7a0000"/>
<ellipse cx="646.26" cy="84.74" rx="5.48" ry="3.29" fill="#7a0000"/>
<ellipse cx="701.05" cy="99.35" rx="4.57" ry="8.22" fill="#7a0000" transform="rotate(30 701.05 99.35)"/>
</g></g>
<use href="#lk" fill="#fff"/>
<use href="#st" fill="none" stroke="#111" stroke-width="1.1" stroke-linejoin="round"/>
<use href="#ol" fill="none" stroke="#111" stroke-width="1.2" stroke-linejoin="round"/>
</g>
<rect x="585.5" y="61.3" width="186.2" height="87.7" fill="none" stroke="#333" stroke-width="1.1"/>
<path d="M601.29,61.3v2.2M601.29,149v-2.2M633.19,61.3v2.2M633.19,149v-2.2M665.09,61.3v2.2M665.09,149v-2.2M696.99,61.3v2.2M696.99,149v-2.2M728.89,61.3v2.2M728.89,149v-2.2M760.79,61.3v2.2M760.79,149v-2.2M585.5,146.6h2.2M771.7,146.6h-2.2M585.5,129.57h2.2M771.7,129.57h-2.2M585.5,112.55h2.2M771.7,112.55h-2.2M585.5,95.52h2.2M771.7,95.52h-2.2M585.5,78.5h2.2M771.7,78.5h-2.2" stroke="#333" stroke-width="1" fill="none"/>
<text class="t" x="599.29" y="166.8" text-anchor="middle">-120</text>
<text class="t" x="631.19" y="166.8" text-anchor="middle">-110</text>
<text class="t" x="663.09" y="166.8" text-anchor="middle">-100</text>
<text class="t" x="694.99" y="166.8" text-anchor="middle">-90</text>
<text class="t" x="726.89" y="166.8" text-anchor="middle">-80</text>
<text class="t" x="758.79" y="166.8" text-anchor="middle">-70</text>
<text class="t" x="581" y="150.8" text-anchor="end">25</text>
<text class="t" x="581" y="133.77" text-anchor="end">30</text>
<text class="t" x="581" y="116.75" text-anchor="end">35</text>
<text class="t" x="581" y="99.72" text-anchor="end">40</text>
<text class="t" x="581" y="82.7" text-anchor="end">45</text>
<text class="pl" x="666.7" y="55.8" text-anchor="middle">(c)</text>
<g transform="translate(1229.99,231.72) scale(3.19,-3.405)">
<g clip-path="url(#us)"><g transform="scale(0.31,-0.29) translate(-1229.99,-231.72)" filter="url(#tx)">
<rect x="829.4" y="59.3" width="190.2" height="91.7" fill="#ffaa00"/>
<path d="M940.57,100.26 958.83,98.44 977.09,96.61 988.96,98.44 989.88,109.39 977.09,119.44 971.61,126.74 958.83,127.65 940.57,129.48Z" fill="#ffff00"/>
<path d="M834.65,88.39 847.44,88.39 847.44,97.52 858.39,112.13 854.74,119.44 843.78,108.48 835.57,95.7Z" fill="#ffff00"/>
<path d="M865.7,79.26 904.05,78.35 925.96,84.74 925.96,106.65 902.22,106.65 902.22,121.26 882.13,123.09 863.87,119.44 863.87,97.52Z" fill="#ee0000"/>
<ellipse cx="845.61" cy="73.78" rx="10.96" ry="7.3" fill="#ffff00"/>
<ellipse cx="838.3" cy="82.91" rx="3.65" ry="4.57" fill="#55eea0"/>
<ellipse cx="841.96" cy="103" rx="2.19" ry="2.74" fill="#55eea0"/>
<ellipse cx="907.7" cy="68.3" rx="3.65" ry="2.19" fill="#ffff00"/>
<ellipse cx="918.66" cy="110.31" rx="7.3" ry="4.57" fill="#ffff00"/>
<ellipse cx="917.74" cy="111.22" rx="3.29" ry="2.19" fill="#55eea0"/>
<ellipse cx="915" cy="128.57" rx="10.04" ry="10.96" fill="#ffff00"/>
<ellipse cx="913.18" cy="129.48" rx="3.65" ry="2.74" fill="#55eea0"/>
<ellipse cx="936.92" cy="124.92" rx="5.48" ry="4.57" fill="#ffff00"/>
<ellipse cx="958.83" cy="104.83" rx="9.13" ry="3.65" fill="#ffff00"/>
<ellipse cx="966.14" cy="103.91" rx="3.65" ry="2.19" fill="#55eea0"/>
<ellipse cx="950.61" cy="119.44" rx="8.22" ry="7.3" fill="#ffff00"/>
<ellipse cx="951.53" cy="117.61" rx="4.57" ry="4.57" fill="#55eea0"/>
<ellipse cx="963.4" cy="119.44" rx="5.48" ry="5.48" fill="#ffff00"/>
<ellipse cx="961.57" cy="118.52" rx="2.19" ry="2.19" fill="#55eea0"/>
<ellipse cx="977.09" cy="104.83" rx="9.13" ry="3.29" fill="#55eea0"/>
<ellipse cx="967.05" cy="131.31" rx="1.83" ry="1.83" fill="#ffff00"/>
<ellipse cx="984.4" cy="91.13" rx="8.22" ry="5.48" fill="#ffff00"/>
<ellipse cx="989.88" cy="86.57" rx="2.74" ry="1.83" fill="#55eea0"/>
<ellipse cx="1008.14" cy="75.61" rx="5.48" ry="5.48" fill="#ffff00"/>
<ellipse cx="958.83" cy="115.78" rx="10.96" ry="5.48" fill="#55eea0"/>
<ellipse cx="967.96" cy="134.05" rx="2.74" ry="4.57" fill="#ffff00"/>
<ellipse cx="838.3" cy="70.13" rx="3.29" ry="2.74" fill="#00dcf8"/>
<ellipse cx="840.13" cy="95.7" rx="3.29" ry="5.48" fill="#00dcf8"/>
<ellipse cx="883.96" cy="69.22" rx="10.96" ry="3.65" fill="#fdca78"/>
<ellipse cx="909.52" cy="69.22" rx="10.04" ry="4.57" fill="#fdca78"/>
<ellipse cx="922.31" cy="121.26" rx="4.57" ry="3.65" fill="#fdca78"/>
<ellipse cx="927.79" cy="73.78" rx="7.3" ry="8.22" fill="#fdca78"/>
<ellipse cx="947.87" cy="115.78" rx="1.83" ry="1.83" fill="#00dcf8"/>
<ellipse cx="975.27" cy="115.78" rx="4.57" ry="3.65" fill="#00dcf8"/>
<ellipse cx="980.74" cy="106.65" rx="2.74" ry="1.46" fill="#00dcf8"/>
<ellipse cx="973.44" cy="113.96" rx="4.57" ry="3.65" fill="#00dcf8"/>
<ellipse cx="858.39" cy="112.13" rx="4.57" ry="3.65" fill="#ffaa00"/>
<ellipse cx="873" cy="113.96" rx="4.57" ry="4.57" fill="#ffaa00"/>
<ellipse cx="891.26" cy="113.96" rx="4.57" ry="3.65" fill="#ffaa00"/>
<ellipse cx="969.79" cy="94.78" rx="5.48" ry="5.48" fill="#ffaa00"/>
<ellipse cx="935.09" cy="113.96" rx="5.48" ry="5.48" fill="#ffaa00"/>
<ellipse cx="980.74" cy="111.22" rx="7.3" ry="3.65" fill="#18a0f0"/>
<ellipse cx="968.87" cy="134.96" rx="3.65" ry="6.39" fill="#ffaa00"/>
<ellipse cx="971.61" cy="144.09" rx="1.83" ry="2.19" fill="#18a0f0"/>
<ellipse cx="970.7" cy="143.54" rx="1.83" ry="2.56" fill="#18a0f0"/>
<ellipse cx="845.61" cy="66.48" rx="3.65" ry="1.83" fill="#ee0000"/>
<ellipse cx="856.57" cy="99.35" rx="7.3" ry="8.22" fill="#ee0000"/>
<ellipse cx="866.61" cy="79.26" rx="6.39" ry="8.22" fill="#ee0000"/>
<ellipse cx="872.09" cy="74.7" rx="4.57" ry="3.65" fill="#ee0000"/>
<ellipse cx="904.05" cy="117.61" rx="7.3" ry="9.13" fill="#ee0000"/>
<ellipse cx="897.65" cy="124" rx="4.57" ry="3.65" fill="#ee0000"/>
<ellipse cx="928.7" cy="82.91" rx="5.48" ry="2.74" fill="#ee0000"/>
<ellipse cx="944.22" cy="77.44" rx="6.39" ry="5.48" fill="#ee0000"/>
<ellipse cx="960.66" cy="82" rx="6.39" ry="7.3" fill="#ee0000"/>
<ellipse cx="951.53" cy="97.52" rx="3.65" ry="5.48" fill="#ee0000"/>
<ellipse cx="959.74" cy="92.96" rx="5.11" ry="4.57" fill="#ee0000"/>
<ellipse cx="937.83" cy="112.13" rx="2.74" ry="4.57" fill="#ee0000"/>
<ellipse cx="980.74" cy="84.74" rx="3.65" ry="1.83" fill="#ee0000"/>
<ellipse cx="1000.83" cy="84.74" rx="3.65" ry="3.65" fill="#ee0000"/>
<ellipse cx="958.83" cy="88.39" rx="7.3" ry="6.39" fill="#ee0000"/>
<ellipse cx="854.74" cy="101.18" rx="6.39" ry="8.22" fill="#ee0000"/>
<ellipse cx="847.44" cy="81.09" rx="3.65" ry="3.65" fill="#ee0000"/>
<ellipse cx="896.74" cy="112.13" rx="4.57" ry="4.57" fill="#ee0000"/>
<ellipse cx="858.39" cy="97.52" rx="2.74" ry="3.65" fill="#7a0000"/>
<ellipse cx="887.61" cy="84.74" rx="9.13" ry="5.48" fill="#7a0000"/>
<ellipse cx="885.78" cy="97.52" rx="16.44" ry="7.3" fill="#7a0000"/>
<ellipse cx="905.87" cy="88.39" rx="7.3" ry="5.48" fill="#7a0000"/>
<ellipse cx="915" cy="95.7" rx="7.3" ry="7.3" fill="#7a0000"/>
<ellipse cx="874.83" cy="103" rx="3.65" ry="3.65" fill="#7a0000"/>
<ellipse cx="946.96" cy="86.57" rx="4.57" ry="3.65" fill="#7a0000"/>
<ellipse cx="933.26" cy="92.04" rx="7.3" ry="5.48" fill="#7a0000"/>
<ellipse cx="940.57" cy="99.35" rx="5.48" ry="7.3" fill="#7a0000"/>
<ellipse cx="946.96" cy="93.87" rx="5.48" ry="8.22" fill="#7a0000"/>
<ellipse cx="891.26" cy="90.22" rx="16.44" ry="10.04" fill="#7a0000"/>
<ellipse cx="916.83" cy="92.96" rx="8.22" ry="7.3" fill="#7a0000"/>
<ellipse cx="876.65" cy="103" rx="5.48" ry="5.48" fill="#7a0000"/>
<ellipse cx="947.87" cy="92.04" rx="5.48" ry="10.04" fill="#7a0000"/>
</g></g>
<use href="#lk" fill="#fff"/>
<use href="#st" fill="none" stroke="#111" stroke-width="1.1" stroke-linejoin="round"/>
<use href="#ol" fill="none" stroke="#111" stroke-width="1.2" stroke-linejoin="round"/>
</g>
<rect x="831.4" y="61.3" width="186.2" height="87.7" fill="none" stroke="#333" stroke-width="1.1"/>
<path d="M847.19,61.3v2.2M847.19,149v-2.2M879.09,61.3v2.2M879.09,149v-2.2M910.99,61.3v2.2M910.99,149v-2.2M942.89,61.3v2.2M942.89,149v-2.2M974.79,61.3v2.2M974.79,149v-2.2M1006.69,61.3v2.2M1006.69,149v-2.2M831.4,146.6h2.2M1017.6,146.6h-2.2M831.4,129.57h2.2M1017.6,129.57h-2.2M831.4,112.55h2.2M1017.6,112.55h-2.2M831.4,95.52h2.2M1017.6,95.52h-2.2M831.4,78.5h2.2M1017.6,78.5h-2.2" stroke="#333" stroke-width="1" fill="none"/>
<text class="t" x="845.19" y="166.8" text-anchor="middle">-120</text>
<text class="t" x="877.09" y="166.8" text-anchor="middle">-110</text>
<text class="t" x="908.99" y="166.8" text-anchor="middle">-100</text>
<text class="t" x="940.89" y="166.8" text-anchor="middle">-90</text>
<text class="t" x="972.79" y="166.8" text-anchor="middle">-80</text>
<text class="t" x="1004.69" y="166.8" text-anchor="middle">-70</text>
<text class="t" x="826.9" y="150.8" text-anchor="end">25</text>
<text class="t" x="826.9" y="133.77" text-anchor="end">30</text>
<text class="t" x="826.9" y="116.75" text-anchor="end">35</text>
<text class="t" x="826.9" y="99.72" text-anchor="end">40</text>
<text class="t" x="826.9" y="82.7" text-anchor="end">45</text>
<text class="pl" x="912.6" y="55.8" text-anchor="middle">(d)</text>
<g transform="translate(492.19,361.82) scale(3.19,-3.405)">
<g clip-path="url(#us)"><g transform="scale(0.31,-0.29) translate(-492.19,-361.82)" filter="url(#bl)">
<rect x="91.6" y="189.4" width="190.2" height="91.7" fill="#ffffff"/>
<path d="M100.39,209.26 118.65,209.26 118.65,218.39 100.39,218.39Z" fill="#ffff00"/>
<path d="M130.52,200.13 157,200.13 157,207.44 130.52,207.44Z" fill="#ffff00"/>
<path d="M139.65,209.26 160.11,209.26 160.11,220.22 139.65,220.22Z" fill="#ffff00"/>
<path d="M201.74,218.39 212.7,218.39 212.7,234.83 201.74,234.83Z" fill="#fdd295"/>
<path d="M190.79,223.87 203.57,223.87 205.4,236.65 192.61,237.57Z" fill="#fdd295"/>
<path d="M166.68,225.33 189.33,225.7 189.33,236.11 166.68,236.11Z" fill="#fdd295"/>
<path d="M144.22,221.13 166.13,221.13 166.13,235.74 144.22,235.74Z" fill="#fdd295"/>
<path d="M110.07,219.31 144.22,220.22 144.22,235.74 128.7,235.74 126.51,239.39 125.96,244.87 110.07,227.52Z" fill="#ffaa00"/>
<path d="M96.19,219.85 102.77,219.85 105.32,231.18 112.26,241.77 121.39,247.98 121.39,251.26 115.91,251.26 108.61,244.87 102.22,236.65 97.29,227.52Z" fill="#ffff00"/>
<path d="M104.96,223.87 110.44,220.22 110.44,227.52 125.04,243.96 119.57,247.61 112.26,242.13 104.96,233Z" fill="#fdd295"/>
<path d="M126.87,235.74 166.13,235.74 166.13,254 148.78,253.45 137.83,253.09 127.78,249.44 125.96,243.96Z" fill="#ffaa00"/>
<path d="M154.26,245.78 172.52,243.96 192.61,249.44 192.61,260.39 183.48,267.7 179.83,273.18 174.35,267.7 167.05,260.39 157.92,258.57Z" fill="#fdd295"/>
<path d="M192.61,236.65 204.48,236.65 203.57,249.44 192.61,249.44Z" fill="#ffaa00"/>
<ellipse cx="174.35" cy="207.44" rx="2.19" ry="1.46" fill="#ffffff"/>
<ellipse cx="110.8" cy="199.22" rx="2.74" ry="2.74" fill="#ffff00"/>
<ellipse cx="132.35" cy="205.61" rx="3.29" ry="3.29" fill="#ffff00"/>
<ellipse cx="168.87" cy="199.22" rx="6.39" ry="2.74" fill="#ffff00"/>
<ellipse cx="178" cy="198.3" rx="3.65" ry="2.19" fill="#ffff00"/>
<ellipse cx="170.7" cy="210.17" rx="7.3" ry="4.57" fill="#ffff00"/>
<ellipse cx="183.48" cy="221.13" rx="5.11" ry="4.57" fill="#ffff00"/>
<ellipse cx="189.87" cy="201.04" rx="5.48" ry="5.11" fill="#ffff00"/>
<ellipse cx="221.83" cy="215.65" rx="5.48" ry="2.19" fill="#ffff00"/>
<ellipse cx="217.27" cy="224.78" rx="4.57" ry="6.39" fill="#ffff00"/>
<ellipse cx="229.14" cy="223.87" rx="7.3" ry="5.11" fill="#ffff00"/>
<ellipse cx="186.22" cy="233" rx="2.74" ry="1.83" fill="#ffff00"/>
<ellipse cx="181.66" cy="254" rx="10.04" ry="8.22" fill="#ffff00"/>
<ellipse cx="179.83" cy="242.13" rx="10.96" ry="3.65" fill="#ffff00"/>
<ellipse cx="223.66" cy="233" rx="10.96" ry="4.57" fill="#ffff00"/>
<ellipse cx="199" cy="254" rx="4.57" ry="5.48" fill="#ffff00"/>
<ellipse cx="215.44" cy="249.44" rx="4.02" ry="6.39" fill="#ffff00"/>
<ellipse cx="240.09" cy="239.39" rx="10.96" ry="3.65" fill="#ffff00"/>
<ellipse cx="242.83" cy="232.09" rx="4.57" ry="3.65" fill="#ffff00"/>
<ellipse cx="259.27" cy="217.48" rx="4.57" ry="2.74" fill="#ffff00"/>
<ellipse cx="109.52" cy="214.74" rx="6.39" ry="3.29" fill="#fdd295"/>
<ellipse cx="148.78" cy="203.78" rx="3.65" ry="1.83" fill="#fdd295"/>
<ellipse cx="150.61" cy="216.57" rx="5.48" ry="2.74" fill="#fdd295"/>
<ellipse cx="170.7" cy="221.13" rx="8.22" ry="4.57" fill="#fdd295"/>
<ellipse cx="193.53" cy="213.83" rx="5.48" ry="2.74" fill="#fdd295"/>
<ellipse cx="196.26" cy="220.22" rx="6.94" ry="3.65" fill="#fdd295"/>
<ellipse cx="209.96" cy="203.78" rx="4.57" ry="1.46" fill="#fdd295"/>
<ellipse cx="119.57" cy="229.35" rx="3.65" ry="4.57" fill="#fdd295"/>
<ellipse cx="136" cy="227.52" rx="3.65" ry="4.57" fill="#fdd295"/>
<ellipse cx="148.78" cy="240.31" rx="3.65" ry="3.65" fill="#fdd295"/>
<ellipse cx="169.79" cy="240.31" rx="4.57" ry="3.29" fill="#fdd295"/>
<ellipse cx="221.83" cy="239.39" rx="7.3" ry="1.83" fill="#fdd295"/>
<ellipse cx="227.31" cy="258.57" rx="2.74" ry="2.74" fill="#fdd295"/>
<ellipse cx="245.57" cy="241.22" rx="4.57" ry="1.83" fill="#fdd295"/>
<ellipse cx="172.52" cy="211.09" rx="9.13" ry="4.57" fill="#fdd295"/>
<ellipse cx="150.61" cy="201.96" rx="7.3" ry="2.74" fill="#fdd295"/>
<ellipse cx="180.74" cy="230.26" rx="4.57" ry="1.83" fill="#ffaa00"/>
<ellipse cx="170.7" cy="248.52" rx="4.57" ry="3.65" fill="#ffaa00"/>
<ellipse cx="230.05" cy="264.05" rx="4.57" ry="7.3" fill="#ffaa00"/>
<ellipse cx="148.78" cy="227.52" rx="10.96" ry="6.39" fill="#ffaa00"/>
<ellipse cx="117.74" cy="233" rx="7.3" ry="7.3" fill="#ffaa00"/>
<ellipse cx="148.78" cy="245.78" rx="10.96" ry="6.39" fill="#ffaa00"/>
<ellipse cx="141.48" cy="224.78" rx="3.65" ry="6.39" fill="#ee0000"/>
<ellipse cx="148.78" cy="225.7" rx="5.48" ry="3.29" fill="#ee0000"/>
<ellipse cx="142.39" cy="220.22" rx="1.83" ry="1.83" fill="#ee0000"/>
<ellipse cx="158.83" cy="230.26" rx="3.29" ry="1.46" fill="#ee0000"/>
<ellipse cx="170.7" cy="230.26" rx="1.83" ry="3.29" fill="#ee0000" transform="rotate(30 170.7 230.26)"/>
<ellipse cx="111.9" cy="223.87" rx="1.83" ry="3.65" fill="#ee0000"/>
<ellipse cx="127.42" cy="223.87" rx="1.46" ry="3.29" fill="#ee0000"/>
<ellipse cx="132.71" cy="246.7" rx="4.57" ry="3.29" fill="#ee0000"/>
<ellipse cx="141.11" cy="238.11" rx="2.74" ry="2.74" fill="#ee0000"/>
<ellipse cx="158.83" cy="246.7" rx="4.57" ry="6.39" fill="#ee0000"/>
<ellipse cx="172.89" cy="247.61" rx="2.56" ry="2.74" fill="#ee0000"/>
<ellipse cx="158.28" cy="255.83" rx="2.56" ry="3.29" fill="#ee0000"/>
<ellipse cx="206.31" cy="234.83" rx="4.57" ry="2.19" fill="#ee0000" transform="rotate(-30 206.31 234.83)"/>
<ellipse cx="224.57" cy="248.52" rx="6.94" ry="7.3" fill="#ee0000"/>
<ellipse cx="145.13" cy="225.7" rx="6.39" ry="5.11" fill="#ee0000"/>
<ellipse cx="157.92" cy="245.78" rx="4.02" ry="6.39" fill="#ee0000"/>
<ellipse cx="225.48" cy="248.52" rx="5.48" ry="5.48" fill="#ee0000"/>
<ellipse cx="225.85" cy="247.98" rx="1.46" ry="3.29" fill="#7a0000" transform="rotate(40 225.85 247.98)"/>
</g></g>
<use href="#lk" fill="#fff"/>
<use href="#st" fill="none" stroke="#111" stroke-width="1.1" stroke-linejoin="round"/>
<use href="#ol" fill="none" stroke="#111" stroke-width="1.2" stroke-linejoin="round"/>
</g>
<rect x="93.6" y="191.4" width="186.2" height="87.7" fill="none" stroke="#333" stroke-width="1.1"/>
<path d="M109.39,191.4v2.2M109.39,279.1v-2.2M141.29,191.4v2.2M141.29,279.1v-2.2M173.19,191.4v2.2M173.19,279.1v-2.2M205.09,191.4v2.2M205.09,279.1v-2.2M236.99,191.4v2.2M236.99,279.1v-2.2M268.89,191.4v2.2M268.89,279.1v-2.2M93.6,276.7h2.2M279.8,276.7h-2.2M93.6,259.67h2.2M279.8,259.67h-2.2M93.6,242.65h2.2M279.8,242.65h-2.2M93.6,225.62h2.2M279.8,225.62h-2.2M93.6,208.6h2.2M279.8,208.6h-2.2" stroke="#333" stroke-width="1" fill="none"/>
<text class="t" x="107.39" y="296.9" text-anchor="middle">-120</text>
<text class="t" x="139.29" y="296.9" text-anchor="middle">-110</text>
<text class="t" x="171.19" y="296.9" text-anchor="middle">-100</text>
<text class="t" x="203.09" y="296.9" text-anchor="middle">-90</text>
<text class="t" x="234.99" y="296.9" text-anchor="middle">-80</text>
<text class="t" x="266.89" y="296.9" text-anchor="middle">-70</text>
<text class="t" x="89.1" y="280.9" text-anchor="end">25</text>
<text class="t" x="89.1" y="263.87" text-anchor="end">30</text>
<text class="t" x="89.1" y="246.85" text-anchor="end">35</text>
<text class="t" x="89.1" y="229.82" text-anchor="end">40</text>
<text class="t" x="89.1" y="212.8" text-anchor="end">45</text>
<text class="pl" x="174.8" y="185.9" text-anchor="middle">(e)</text>
<g transform="translate(738.39,361.82) scale(3.19,-3.405)">
<g clip-path="url(#us)"><g transform="scale(0.31,-0.29) translate(-738.39,-361.82)" filter="url(#tx)">
<rect x="337.8" y="189.4" width="190.2" height="91.7" fill="#ffff00"/>
<path d="M342.74,194.65 365.57,194.65 365.57,218.39 343.65,218.39Z" fill="#18a0f0"/>
<path d="M343.65,218.39 356.44,218.39 356.44,227.52 367.39,242.13 369.22,249.44 361.91,249.44 350.96,238.48 344.57,225.7Z" fill="#55eea0"/>
<path d="M429.48,194.65 445,196.48 445,205.61 442.26,211.09 431.31,212 429.48,205.61Z" fill="#1e6af5"/>
<ellipse cx="367.39" cy="203.78" rx="3.65" ry="4.57" fill="#ffffff"/>
<ellipse cx="420.35" cy="199.22" rx="2.74" ry="1.83" fill="#ffffff"/>
<ellipse cx="461.44" cy="212.91" rx="4.57" ry="4.02" fill="#ffffff"/>
<ellipse cx="360.09" cy="212.91" rx="4.57" ry="4.57" fill="#55eea0"/>
<ellipse cx="382" cy="197.39" rx="5.48" ry="2.19" fill="#55eea0"/>
<ellipse cx="400.26" cy="200.13" rx="5.48" ry="1.83" fill="#ffff00"/>
<ellipse cx="416.7" cy="199.22" rx="10.04" ry="4.57" fill="#ffff00"/>
<ellipse cx="412.13" cy="196.48" rx="4.57" ry="1.83" fill="#55eea0"/>
<ellipse cx="420.35" cy="209.26" rx="8.22" ry="3.65" fill="#55eea0"/>
<ellipse cx="413.05" cy="211.09" rx="4.57" ry="2.74" fill="#ffff00"/>
<ellipse cx="408.48" cy="256.74" rx="5.48" ry="3.65" fill="#55eea0"/>
<ellipse cx="445" cy="207.44" rx="2.74" ry="5.48" fill="#55eea0"/>
<ellipse cx="453.22" cy="207.44" rx="6.39" ry="6.39" fill="#55eea0"/>
<ellipse cx="449.57" cy="201.96" rx="4.57" ry="2.74" fill="#ffff00"/>
<ellipse cx="441.35" cy="218.39" rx="6.39" ry="4.57" fill="#ffff00"/>
<ellipse cx="436.79" cy="214.74" rx="2.74" ry="1.83" fill="#55eea0"/>
<ellipse cx="478.79" cy="233" rx="8.22" ry="4.57" fill="#ffff00"/>
<ellipse cx="484.27" cy="234.83" rx="4.57" ry="2.19" fill="#55eea0"/>
<ellipse cx="449.57" cy="251.26" rx="6.39" ry="7.3" fill="#ffff00"/>
<ellipse cx="484.27" cy="243.96" rx="8.22" ry="4.57" fill="#55eea0"/>
<ellipse cx="480.61" cy="271.35" rx="1.83" ry="2.74" fill="#55eea0"/>
<ellipse cx="493.4" cy="218.39" rx="9.13" ry="7.3" fill="#ffff00"/>
<ellipse cx="505.27" cy="216.57" rx="3.65" ry="3.65" fill="#55eea0"/>
<ellipse cx="356.44" cy="198.3" rx="7.3" ry="3.65" fill="#00dcf8"/>
<ellipse cx="371.04" cy="198.3" rx="5.48" ry="2.74" fill="#00dcf8"/>
<ellipse cx="376.52" cy="211.09" rx="6.39" ry="6.39" fill="#fdca78"/>
<ellipse cx="392.96" cy="202.87" rx="11.87" ry="4.57" fill="#fdca78"/>
<ellipse cx="354.61" cy="234.83" rx="6.39" ry="7.3" fill="#00dcf8"/>
<ellipse cx="365.57" cy="236.65" rx="3.65" ry="3.65" fill="#fdca78"/>
<ellipse cx="405.74" cy="232.09" rx="5.48" ry="3.29" fill="#fdca78"/>
<ellipse cx="382" cy="243.96" rx="8.22" ry="7.3" fill="#fdca78"/>
<ellipse cx="400.26" cy="243.96" rx="9.13" ry="7.3" fill="#fdca78"/>
<ellipse cx="420.35" cy="221.13" rx="10.96" ry="4.57" fill="#fdca78"/>
<ellipse cx="424" cy="256.74" rx="12.78" ry="10.96" fill="#fdca78"/>
<ellipse cx="409.39" cy="257.65" rx="2.19" ry="1.83" fill="#00dcf8"/>
<ellipse cx="467.83" cy="207.44" rx="3.65" ry="2.74" fill="#00dcf8"/>
<ellipse cx="470.57" cy="215.65" rx="4.57" ry="3.65" fill="#fdca78"/>
<ellipse cx="445.92" cy="228.44" rx="6.39" ry="5.48" fill="#fdca78"/>
<ellipse cx="458.7" cy="249.44" rx="4.57" ry="4.57" fill="#fdca78"/>
<ellipse cx="470.57" cy="248.52" rx="4.57" ry="4.57" fill="#fdca78"/>
<ellipse cx="487.92" cy="240.31" rx="3.65" ry="2.19" fill="#00dcf8"/>
<ellipse cx="486.09" cy="221.13" rx="3.65" ry="3.65" fill="#fdca78"/>
<ellipse cx="360.09" cy="242.13" rx="3.65" ry="3.65" fill="#18a0f0"/>
<ellipse cx="364.65" cy="227.52" rx="7.3" ry="8.22" fill="#ffaa00"/>
<ellipse cx="392.96" cy="240.31" rx="2.74" ry="2.74" fill="#ffaa00"/>
<ellipse cx="424" cy="230.26" rx="10.96" ry="4.57" fill="#ffaa00"/>
<ellipse cx="422.18" cy="240.31" rx="10.96" ry="4.57" fill="#ffaa00"/>
<ellipse cx="475.14" cy="223.87" rx="8.22" ry="4.57" fill="#ffaa00"/>
<ellipse cx="509.83" cy="211.09" rx="2.74" ry="3.65" fill="#18a0f0"/>
<ellipse cx="367.39" cy="231.18" rx="9.13" ry="9.13" fill="#ffaa00"/>
<ellipse cx="385.65" cy="242.13" rx="3.65" ry="3.65" fill="#ffaa00"/>
<ellipse cx="402.09" cy="247.61" rx="4.57" ry="3.65" fill="#ffaa00"/>
<ellipse cx="420.35" cy="251.26" rx="5.48" ry="4.57" fill="#ffaa00"/>
<ellipse cx="347.3" cy="211.09" rx="4.57" ry="5.48" fill="#1e6af5"/>
<ellipse cx="381.09" cy="228.44" rx="8.22" ry="7.3" fill="#ee0000"/>
<ellipse cx="395.7" cy="215.65" rx="10.96" ry="5.48" fill="#ee0000"/>
<ellipse cx="403.92" cy="225.7" rx="7.3" ry="4.57" fill="#ee0000"/>
<ellipse cx="417.61" cy="228.44" rx="2.74" ry="1.83" fill="#ee0000"/>
<ellipse cx="432.22" cy="230.26" rx="2.74" ry="2.74" fill="#ee0000"/>
<ellipse cx="437.7" cy="239.39" rx="5.48" ry="4.57" fill="#ee0000"/>
<ellipse cx="449.57" cy="236.65" rx="4.57" ry="3.65" fill="#ee0000"/>
<ellipse cx="425.83" cy="255.83" rx="1.83" ry="1.46" fill="#ee0000"/>
<ellipse cx="464.18" cy="222.96" rx="4.57" ry="3.65" fill="#ee0000"/>
<ellipse cx="455.05" cy="233" rx="4.57" ry="3.65" fill="#ee0000"/>
<ellipse cx="471.48" cy="222.96" rx="2.74" ry="2.19" fill="#ee0000"/>
<ellipse cx="466" cy="238.48" rx="4.57" ry="2.19" fill="#ee0000"/>
<ellipse cx="470.57" cy="248.52" rx="1.83" ry="1.83" fill="#ee0000"/>
<ellipse cx="475.14" cy="264.05" rx="4.02" ry="7.3" fill="#1e6af5"/>
<ellipse cx="515.31" cy="204.7" rx="7.3" ry="6.39" fill="#1e6af5"/>
<ellipse cx="382" cy="227.52" rx="9.13" ry="7.3" fill="#ee0000"/>
<ellipse cx="396.61" cy="218.39" rx="12.78" ry="6.39" fill="#ee0000"/>
<ellipse cx="398.44" cy="229.35" rx="10.96" ry="6.39" fill="#ee0000"/>
<ellipse cx="442.26" cy="238.48" rx="8.22" ry="6.39" fill="#ee0000"/>
<ellipse cx="394.78" cy="217.48" rx="10.96" ry="5.48" fill="#ee0000"/>
<ellipse cx="387.48" cy="228.44" rx="10.04" ry="6.39" fill="#ee0000"/>
<ellipse cx="379.26" cy="229.35" rx="4.11" ry="4.11" fill="#7a0000"/>
<ellipse cx="396.61" cy="216.57" rx="6.16" ry="3.01" fill="#7a0000"/>
<ellipse cx="393.87" cy="227.52" rx="4.79" ry="5.48" fill="#7a0000"/>
<ellipse cx="443.18" cy="240.31" rx="4.79" ry="4.11" fill="#7a0000"/>
<ellipse cx="438.61" cy="201.04" rx="4.57" ry="4.57" fill="#0a14ee"/>
<ellipse cx="458.7" cy="227.52" rx="2.74" ry="6.85" fill="#7a0000" transform="rotate(40 458.7 227.52)"/>
<ellipse cx="456.87" cy="237.57" rx="5.48" ry="2.47" fill="#7a0000"/>
<ellipse cx="475.14" cy="260.39" rx="1.83" ry="2.74" fill="#0a14ee"/>
<ellipse cx="394.78" cy="218.39" rx="6.16" ry="3.42" fill="#7a0000"/>
<ellipse cx="383.83" cy="230.26" rx="4.11" ry="4.11" fill="#7a0000"/>
<ellipse cx="394.78" cy="228.44" rx="4.11" ry="4.11" fill="#7a0000"/>
<ellipse cx="444.09" cy="240.31" rx="4.11" ry="3.42" fill="#7a0000"/>
</g></g>
<use href="#lk" fill="#fff"/>
<use href="#st" fill="none" stroke="#111" stroke-width="1.1" stroke-linejoin="round"/>
<use href="#ol" fill="none" stroke="#111" stroke-width="1.2" stroke-linejoin="round"/>
</g>
<rect x="339.8" y="191.4" width="186.2" height="87.7" fill="none" stroke="#333" stroke-width="1.1"/>
<path d="M355.59,191.4v2.2M355.59,279.1v-2.2M387.49,191.4v2.2M387.49,279.1v-2.2M419.39,191.4v2.2M419.39,279.1v-2.2M451.29,191.4v2.2M451.29,279.1v-2.2M483.19,191.4v2.2M483.19,279.1v-2.2M515.09,191.4v2.2M515.09,279.1v-2.2M339.8,276.7h2.2M526,276.7h-2.2M339.8,259.67h2.2M526,259.67h-2.2M339.8,242.65h2.2M526,242.65h-2.2M339.8,225.62h2.2M526,225.62h-2.2M339.8,208.6h2.2M526,208.6h-2.2" stroke="#333" stroke-width="1" fill="none"/>
<text class="t" x="353.59" y="296.9" text-anchor="middle">-120</text>
<text class="t" x="385.49" y="296.9" text-anchor="middle">-110</text>
<text class="t" x="417.39" y="296.9" text-anchor="middle">-100</text>
<text class="t" x="449.29" y="296.9" text-anchor="middle">-90</text>
<text class="t" x="481.19" y="296.9" text-anchor="middle">-80</text>
<text class="t" x="513.09" y="296.9" text-anchor="middle">-70</text>
<text class="t" x="335.3" y="280.9" text-anchor="end">25</text>
<text class="t" x="335.3" y="263.87" text-anchor="end">30</text>
<text class="t" x="335.3" y="246.85" text-anchor="end">35</text>
<text class="t" x="335.3" y="229.82" text-anchor="end">40</text>
<text class="t" x="335.3" y="212.8" text-anchor="end">45</text>
<text class="pl" x="421" y="185.9" text-anchor="middle">(f)</text>
<g transform="translate(984.09,361.82) scale(3.19,-3.405)">
<g clip-path="url(#us)"><g transform="scale(0.31,-0.29) translate(-984.09,-361.82)" filter="url(#tx)">
<rect x="583.5" y="189.4" width="190.2" height="91.7" fill="#fdca78"/>
<path d="M588.74,194.65 611.57,194.65 611.57,218.39 589.65,218.39Z" fill="#18a0f0"/>
<path d="M589.65,218.39 602.44,218.39 602.44,227.52 609.74,238.48 606.09,243.96 596.96,238.48 590.57,225.7Z" fill="#00dcf8"/>
<path d="M675.48,194.65 691,196.48 691,205.61 688.26,211.09 677.31,212 675.48,205.61Z" fill="#1e6af5"/>
<ellipse cx="606.09" cy="212.91" rx="3.65" ry="2.74" fill="#ffffff"/>
<ellipse cx="593.3" cy="223.87" rx="2.74" ry="4.57" fill="#ffffff"/>
<ellipse cx="707.44" cy="212.91" rx="3.65" ry="3.65" fill="#ffffff"/>
<ellipse cx="627.09" cy="196.48" rx="4.57" ry="1.83" fill="#55eea0"/>
<ellipse cx="621.61" cy="212" rx="7.3" ry="5.48" fill="#ffff00"/>
<ellipse cx="638.96" cy="201.96" rx="11.87" ry="4.57" fill="#ffff00"/>
<ellipse cx="600.61" cy="233" rx="4.57" ry="4.57" fill="#55eea0"/>
<ellipse cx="664.52" cy="199.22" rx="10.04" ry="4.57" fill="#ffff00"/>
<ellipse cx="664.52" cy="209.26" rx="9.13" ry="3.65" fill="#ffff00"/>
<ellipse cx="699.22" cy="207.44" rx="5.48" ry="5.48" fill="#55eea0"/>
<ellipse cx="702.87" cy="201.04" rx="4.57" ry="2.74" fill="#ffff00"/>
<ellipse cx="716.57" cy="214.74" rx="5.11" ry="4.57" fill="#ffff00"/>
<ellipse cx="687.35" cy="218.39" rx="6.39" ry="4.57" fill="#ffff00"/>
<ellipse cx="726.61" cy="233" rx="8.22" ry="4.57" fill="#ffff00"/>
<ellipse cx="695.57" cy="251.26" rx="6.39" ry="7.3" fill="#ffff00"/>
<ellipse cx="706.53" cy="249.44" rx="4.57" ry="4.57" fill="#ffff00"/>
<ellipse cx="716.57" cy="248.52" rx="4.57" ry="4.57" fill="#ffff00"/>
<ellipse cx="730.27" cy="243.96" rx="8.22" ry="4.57" fill="#55eea0"/>
<ellipse cx="726.61" cy="271.35" rx="1.83" ry="2.74" fill="#55eea0"/>
<ellipse cx="739.4" cy="218.39" rx="9.13" ry="7.3" fill="#ffff00"/>
<ellipse cx="751.27" cy="216.57" rx="3.65" ry="3.65" fill="#55eea0"/>
<ellipse cx="600.61" cy="211.09" rx="7.3" ry="5.48" fill="#00dcf8"/>
<ellipse cx="617.04" cy="199.22" rx="5.48" ry="4.57" fill="#00dcf8"/>
<ellipse cx="659.05" cy="254.92" rx="5.48" ry="4.57" fill="#fdca78"/>
<ellipse cx="691.92" cy="205.61" rx="3.65" ry="7.3" fill="#00dcf8"/>
<ellipse cx="631.65" cy="203.78" rx="3.65" ry="2.19" fill="#ffaa00"/>
<ellipse cx="611.57" cy="227.52" rx="8.22" ry="8.22" fill="#ffaa00"/>
<ellipse cx="611.57" cy="242.13" rx="5.48" ry="5.48" fill="#ffaa00"/>
<ellipse cx="628" cy="249.44" rx="4.57" ry="2.74" fill="#ffaa00"/>
<ellipse cx="649.92" cy="249.44" rx="3.65" ry="2.74" fill="#ffaa00"/>
<ellipse cx="666.35" cy="221.13" rx="9.13" ry="4.57" fill="#ffaa00"/>
<ellipse cx="670" cy="230.26" rx="10.96" ry="4.57" fill="#ffaa00"/>
<ellipse cx="668.18" cy="240.31" rx="10.96" ry="4.57" fill="#ffaa00"/>
<ellipse cx="670" cy="256.74" rx="12.78" ry="10.96" fill="#ffaa00"/>
<ellipse cx="691.92" cy="228.44" rx="6.39" ry="5.48" fill="#ffaa00"/>
<ellipse cx="721.14" cy="223.87" rx="8.22" ry="4.57" fill="#ffaa00"/>
<ellipse cx="733.92" cy="243.05" rx="4.57" ry="2.74" fill="#18a0f0"/>
<ellipse cx="611.57" cy="233" rx="9.13" ry="10.96" fill="#ffaa00"/>
<ellipse cx="668.18" cy="254.92" rx="10.96" ry="9.13" fill="#ffaa00"/>
<ellipse cx="646.26" cy="222.04" rx="10.96" ry="7.3" fill="#ffaa00"/>
<ellipse cx="595.13" cy="200.13" rx="5.48" ry="4.57" fill="#1e6af5"/>
<ellipse cx="627.09" cy="228.44" rx="8.22" ry="7.3" fill="#ee0000"/>
<ellipse cx="641.7" cy="216.57" rx="10.96" ry="5.48" fill="#ee0000"/>
<ellipse cx="650.83" cy="227.52" rx="8.22" ry="5.48" fill="#ee0000"/>
<ellipse cx="628" cy="243.96" rx="8.22" ry="7.3" fill="#ee0000"/>
<ellipse cx="646.26" cy="243.05" rx="7.3" ry="5.48" fill="#ee0000"/>
<ellipse cx="665.44" cy="229.35" rx="3.65" ry="2.74" fill="#ee0000"/>
<ellipse cx="678.22" cy="230.26" rx="2.74" ry="2.74" fill="#ee0000"/>
<ellipse cx="677.31" cy="240.31" rx="3.65" ry="2.74" fill="#ee0000"/>
<ellipse cx="683.7" cy="239.39" rx="5.48" ry="4.57" fill="#ee0000"/>
<ellipse cx="695.57" cy="236.65" rx="4.57" ry="3.65" fill="#ee0000"/>
<ellipse cx="671.83" cy="255.83" rx="1.83" ry="1.46" fill="#ee0000"/>
<ellipse cx="712" cy="222.96" rx="4.57" ry="3.65" fill="#ee0000"/>
<ellipse cx="701.05" cy="233" rx="4.57" ry="3.65" fill="#ee0000"/>
<ellipse cx="725.7" cy="221.13" rx="2.74" ry="2.19" fill="#ee0000"/>
<ellipse cx="712" cy="238.48" rx="4.57" ry="2.19" fill="#ee0000"/>
<ellipse cx="721.14" cy="264.05" rx="4.02" ry="7.3" fill="#1e6af5"/>
<ellipse cx="761.31" cy="204.7" rx="7.3" ry="6.39" fill="#1e6af5"/>
<ellipse cx="633.48" cy="238.48" rx="14.61" ry="12.78" fill="#ee0000"/>
<ellipse cx="642.61" cy="220.22" rx="14.61" ry="8.22" fill="#ee0000"/>
<ellipse cx="688.26" cy="238.48" rx="8.22" ry="6.39" fill="#ee0000"/>
<ellipse cx="626.18" cy="229.35" rx="5.48" ry="5.48" fill="#7a0000"/>
<ellipse cx="642.61" cy="216.57" rx="8.22" ry="4.02" fill="#7a0000"/>
<ellipse cx="640.78" cy="227.52" rx="7.3" ry="7.3" fill="#7a0000"/>
<ellipse cx="655.39" cy="221.13" rx="2.74" ry="2.19" fill="#7a0000"/>
<ellipse cx="637.5" cy="243.96" rx="2.19" ry="8.22" fill="#7a0000"/>
<ellipse cx="689.18" cy="240.31" rx="6.39" ry="5.48" fill="#7a0000"/>
<ellipse cx="684.61" cy="201.04" rx="4.57" ry="4.57" fill="#0a14ee"/>
<ellipse cx="704.7" cy="227.52" rx="3.65" ry="9.13" fill="#7a0000" transform="rotate(40 704.7 227.52)"/>
<ellipse cx="702.87" cy="237.57" rx="7.3" ry="3.29" fill="#7a0000"/>
<ellipse cx="721.14" cy="260.39" rx="1.83" ry="2.74" fill="#0a14ee"/>
<ellipse cx="640.78" cy="218.39" rx="9.13" ry="5.11" fill="#7a0000"/>
<ellipse cx="631.65" cy="231.18" rx="7.3" ry="6.39" fill="#7a0000"/>
<ellipse cx="640.78" cy="229.35" rx="6.39" ry="6.39" fill="#7a0000"/>
<ellipse cx="637.13" cy="243.96" rx="2.74" ry="7.3" fill="#7a0000"/>
<ellipse cx="690.09" cy="240.31" rx="5.48" ry="4.57" fill="#7a0000"/>
</g></g>
<use href="#lk" fill="#fff"/>
<use href="#st" fill="none" stroke="#111" stroke-width="1.1" stroke-linejoin="round"/>
<use href="#ol" fill="none" stroke="#111" stroke-width="1.2" stroke-linejoin="round"/>
</g>
<rect x="585.5" y="191.4" width="186.2" height="87.7" fill="none" stroke="#333" stroke-width="1.1"/>
<path d="M601.29,191.4v2.2M601.29,279.1v-2.2M633.19,191.4v2.2M633.19,279.1v-2.2M665.09,191.4v2.2M665.09,279.1v-2.2M696.99,191.4v2.2M696.99,279.1v-2.2M728.89,191.4v2.2M728.89,279.1v-2.2M760.79,191.4v2.2M760.79,279.1v-2.2M585.5,276.7h2.2M771.7,276.7h-2.2M585.5,259.67h2.2M771.7,259.67h-2.2M585.5,242.65h2.2M771.7,242.65h-2.2M585.5,225.62h2.2M771.7,225.62h-2.2M585.5,208.6h2.2M771.7,208.6h-2.2" stroke="#333" stroke-width="1" fill="none"/>
<text class="t" x="599.29" y="296.9" text-anchor="middle">-120</text>
<text class="t" x="631.19" y="296.9" text-anchor="middle">-110</text>
<text class="t" x="663.09" y="296.9" text-anchor="middle">-100</text>
<text class="t" x="694.99" y="296.9" text-anchor="middle">-90</text>
<text class="t" x="726.89" y="296.9" text-anchor="middle">-80</text>
<text class="t" x="758.79" y="296.9" text-anchor="middle">-70</text>
<text class="t" x="581" y="280.9" text-anchor="end">25</text>
<text class="t" x="581" y="263.87" text-anchor="end">30</text>
<text class="t" x="581" y="246.85" text-anchor="end">35</text>
<text class="t" x="581" y="229.82" text-anchor="end">40</text>
<text class="t" x="581" y="212.8" text-anchor="end">45</text>
<text class="pl" x="666.7" y="185.9" text-anchor="middle">(g)</text>
<g transform="translate(1229.99,361.82) scale(3.19,-3.405)">
<g clip-path="url(#us)"><g transform="scale(0.31,-0.29) translate(-1229.99,-361.82)" filter="url(#tx)">
<rect x="829.4" y="189.4" width="190.2" height="91.7" fill="#ffaa00"/>
<path d="M940.57,230.26 958.83,228.44 977.09,226.61 988.96,228.44 989.88,239.39 977.09,249.44 971.61,256.74 958.83,257.65 940.57,259.48Z" fill="#55eea0"/>
<path d="M833.74,194.65 856.57,194.65 856.57,218.39 834.65,218.39Z" fill="#ffff00"/>
<path d="M834.65,218.39 847.44,218.39 847.44,227.52 856.57,240.31 854.74,247.61 843.78,240.31 835.57,225.7Z" fill="#ffff00"/>
<path d="M863.87,218.39 903.13,218.39 903.13,236.65 902.22,253.09 882.13,254 863.87,251.26Z" fill="#ee0000"/>
<ellipse cx="958.83" cy="245.78" rx="1.83" ry="2.19" fill="#ffffff"/>
<ellipse cx="840.13" cy="200.13" rx="5.48" ry="4.57" fill="#55eea0"/>
<ellipse cx="838.3" cy="213.83" rx="3.65" ry="4.57" fill="#55eea0"/>
<ellipse cx="891.26" cy="198.3" rx="4.57" ry="1.83" fill="#55eea0"/>
<ellipse cx="876.65" cy="198.3" rx="4.57" ry="2.19" fill="#ffff00"/>
<ellipse cx="840.13" cy="225.7" rx="3.29" ry="5.48" fill="#55eea0"/>
<ellipse cx="909.52" cy="199.22" rx="10.04" ry="4.57" fill="#ffff00"/>
<ellipse cx="907.7" cy="197.39" rx="3.65" ry="1.83" fill="#55eea0"/>
<ellipse cx="919.57" cy="241.22" rx="8.22" ry="4.57" fill="#ffff00"/>
<ellipse cx="920.48" cy="241.22" rx="3.65" ry="2.19" fill="#55eea0"/>
<ellipse cx="918.66" cy="251.26" rx="5.48" ry="4.57" fill="#ffff00"/>
<ellipse cx="936" cy="254" rx="4.57" ry="5.48" fill="#ffff00"/>
<ellipse cx="958.83" cy="234.83" rx="12.78" ry="4.02" fill="#55eea0"/>
<ellipse cx="949.7" cy="249.44" rx="7.3" ry="7.3" fill="#55eea0"/>
<ellipse cx="966.14" cy="251.26" rx="2.74" ry="2.74" fill="#55eea0"/>
<ellipse cx="977.09" cy="233" rx="9.13" ry="3.65" fill="#55eea0"/>
<ellipse cx="968.87" cy="264.05" rx="3.65" ry="6.39" fill="#ffff00"/>
<ellipse cx="982.57" cy="220.22" rx="9.13" ry="6.39" fill="#ffff00"/>
<ellipse cx="986.22" cy="218.39" rx="3.65" ry="2.74" fill="#55eea0"/>
<ellipse cx="1007.22" cy="204.7" rx="6.39" ry="5.48" fill="#55eea0"/>
<ellipse cx="999.92" cy="214.74" rx="3.65" ry="3.65" fill="#ffff00"/>
<ellipse cx="947.87" cy="254.92" rx="3.65" ry="2.74" fill="#ffff00"/>
<ellipse cx="947.87" cy="245.78" rx="2.74" ry="3.65" fill="#ffff00"/>
<ellipse cx="966.14" cy="251.26" rx="2.19" ry="2.74" fill="#ffff00"/>
<ellipse cx="957" cy="236.65" rx="4.57" ry="1.46" fill="#ffff00"/>
<ellipse cx="969.79" cy="249.44" rx="2.74" ry="2.74" fill="#55eea0"/>
<ellipse cx="883.96" cy="201.04" rx="11.87" ry="5.48" fill="#fdca78"/>
<ellipse cx="839.22" cy="222.04" rx="1.83" ry="2.19" fill="#00dcf8"/>
<ellipse cx="909.52" cy="210.17" rx="10.04" ry="4.57" fill="#fdca78"/>
<ellipse cx="916.83" cy="256.74" rx="10.96" ry="10.04" fill="#fdca78"/>
<ellipse cx="927.79" cy="203.78" rx="7.3" ry="8.22" fill="#fdca78"/>
<ellipse cx="964.31" cy="233.91" rx="4.57" ry="1.83" fill="#00dcf8"/>
<ellipse cx="951.53" cy="248.52" rx="3.65" ry="3.65" fill="#00dcf8"/>
<ellipse cx="962.48" cy="247.61" rx="5.48" ry="5.48" fill="#00dcf8"/>
<ellipse cx="975.27" cy="245.78" rx="3.65" ry="3.65" fill="#00dcf8"/>
<ellipse cx="978.92" cy="232.09" rx="3.65" ry="1.83" fill="#00dcf8"/>
<ellipse cx="967.05" cy="260.39" rx="1.83" ry="2.19" fill="#00dcf8"/>
<ellipse cx="957" cy="245.78" rx="9.13" ry="5.48" fill="#00dcf8"/>
<ellipse cx="849.26" cy="199.22" rx="4.57" ry="2.74" fill="#18a0f0"/>
<ellipse cx="843.78" cy="196.48" rx="2.74" ry="1.46" fill="#ffaa00"/>
<ellipse cx="865.7" cy="201.96" rx="5.48" ry="4.57" fill="#ffaa00"/>
<ellipse cx="891.26" cy="248.52" rx="4.57" ry="3.65" fill="#ffaa00"/>
<ellipse cx="920.48" cy="222.96" rx="4.57" ry="3.65" fill="#ffaa00"/>
<ellipse cx="915" cy="265.87" rx="4.57" ry="4.57" fill="#ffaa00"/>
<ellipse cx="930.53" cy="218.39" rx="6.39" ry="4.57" fill="#ffaa00"/>
<ellipse cx="942.4" cy="203.78" rx="4.57" ry="4.57" fill="#ffaa00"/>
<ellipse cx="969.79" cy="223.87" rx="4.57" ry="4.57" fill="#ffaa00"/>
<ellipse cx="935.09" cy="243.96" rx="5.48" ry="5.48" fill="#ffaa00"/>
<ellipse cx="979.83" cy="240.31" rx="8.22" ry="4.57" fill="#18a0f0"/>
<ellipse cx="971.61" cy="274.09" rx="1.83" ry="2.19" fill="#18a0f0"/>
<ellipse cx="991.7" cy="212.91" rx="2.74" ry="3.65" fill="#18a0f0"/>
<ellipse cx="971.61" cy="243.96" rx="4.57" ry="3.65" fill="#18a0f0"/>
<ellipse cx="866.61" cy="211.09" rx="6.39" ry="6.39" fill="#ee0000"/>
<ellipse cx="856.57" cy="229.35" rx="8.22" ry="10.04" fill="#ee0000"/>
<ellipse cx="858.39" cy="243.96" rx="5.48" ry="5.48" fill="#ee0000"/>
<ellipse cx="909.52" cy="222.04" rx="10.96" ry="5.48" fill="#ee0000"/>
<ellipse cx="915" cy="231.18" rx="10.96" ry="4.57" fill="#ee0000"/>
<ellipse cx="905.87" cy="241.22" rx="4.57" ry="4.57" fill="#ee0000"/>
<ellipse cx="900.39" cy="252.18" rx="7.3" ry="7.3" fill="#ee0000"/>
<ellipse cx="944.22" cy="211.09" rx="5.48" ry="5.48" fill="#ee0000"/>
<ellipse cx="960.66" cy="211.09" rx="5.48" ry="7.3" fill="#ee0000"/>
<ellipse cx="936" cy="229.35" rx="7.3" ry="6.39" fill="#ee0000"/>
<ellipse cx="946.05" cy="227.52" rx="6.39" ry="10.04" fill="#ee0000"/>
<ellipse cx="958.83" cy="222.04" rx="6.39" ry="4.57" fill="#ee0000"/>
<ellipse cx="856.57" cy="234.83" rx="8.22" ry="10.96" fill="#ee0000"/>
<ellipse cx="944.22" cy="222.04" rx="5.48" ry="10.96" fill="#ee0000"/>
<ellipse cx="857.48" cy="228.44" rx="5.48" ry="6.39" fill="#7a0000"/>
<ellipse cx="873" cy="227.52" rx="8.22" ry="8.22" fill="#7a0000"/>
<ellipse cx="889.44" cy="214.74" rx="9.13" ry="5.48" fill="#7a0000"/>
<ellipse cx="891.26" cy="228.44" rx="11.87" ry="7.3" fill="#7a0000"/>
<ellipse cx="873" cy="243.96" rx="7.3" ry="8.22" fill="#7a0000"/>
<ellipse cx="889.44" cy="240.31" rx="5.48" ry="4.57" fill="#7a0000"/>
<ellipse cx="946.05" cy="223.87" rx="4.02" ry="8.22" fill="#7a0000"/>
<ellipse cx="880.31" cy="234.83" rx="16.44" ry="12.78" fill="#7a0000"/>
<ellipse cx="891.26" cy="218.39" rx="10.96" ry="6.39" fill="#7a0000"/>
<ellipse cx="856.57" cy="231.18" rx="4.57" ry="6.39" fill="#7a0000"/>
<ellipse cx="946.05" cy="225.7" rx="2.74" ry="7.3" fill="#7a0000"/>
</g></g>
<use href="#lk" fill="#fff"/>
<use href="#st" fill="none" stroke="#111" stroke-width="1.1" stroke-linejoin="round"/>
<use href="#ol" fill="none" stroke="#111" stroke-width="1.2" stroke-linejoin="round"/>
</g>
<rect x="831.4" y="191.4" width="186.2" height="87.7" fill="none" stroke="#333" stroke-width="1.1"/>
<path d="M847.19,191.4v2.2M847.19,279.1v-2.2M879.09,191.4v2.2M879.09,279.1v-2.2M910.99,191.4v2.2M910.99,279.1v-2.2M942.89,191.4v2.2M942.89,279.1v-2.2M974.79,191.4v2.2M974.79,279.1v-2.2M1006.69,191.4v2.2M1006.69,279.1v-2.2M831.4,276.7h2.2M1017.6,276.7h-2.2M831.4,259.67h2.2M1017.6,259.67h-2.2M831.4,242.65h2.2M1017.6,242.65h-2.2M831.4,225.62h2.2M1017.6,225.62h-2.2M831.4,208.6h2.2M1017.6,208.6h-2.2" stroke="#333" stroke-width="1" fill="none"/>
<text class="t" x="845.19" y="296.9" text-anchor="middle">-120</text>
<text class="t" x="877.09" y="296.9" text-anchor="middle">-110</text>
<text class="t" x="908.99" y="296.9" text-anchor="middle">-100</text>
<text class="t" x="940.89" y="296.9" text-anchor="middle">-90</text>
<text class="t" x="972.79" y="296.9" text-anchor="middle">-80</text>
<text class="t" x="1004.69" y="296.9" text-anchor="middle">-70</text>
<text class="t" x="826.9" y="280.9" text-anchor="end">25</text>
<text class="t" x="826.9" y="263.87" text-anchor="end">30</text>
<text class="t" x="826.9" y="246.85" text-anchor="end">35</text>
<text class="t" x="826.9" y="229.82" text-anchor="end">40</text>
<text class="t" x="826.9" y="212.8" text-anchor="end">45</text>
<text class="pl" x="912.6" y="185.9" text-anchor="middle">(h)</text>
<g transform="translate(492.19,491.52) scale(3.19,-3.405)">
<g clip-path="url(#us)"><g transform="scale(0.31,-0.29) translate(-492.19,-491.52)" filter="url(#bl)">
<rect x="91.6" y="319.1" width="190.2" height="91.7" fill="#ffffff"/>
<path d="M101.3,339.26 118.65,339.26 118.65,348.39 101.3,348.39Z" fill="#fdd295"/>
<path d="M124.13,337.44 137.83,337.44 137.83,348.39 124.13,348.39Z" fill="#ffff00"/>
<path d="M130.52,328.3 160.11,326.48 160.11,338.35 137.83,338.35 130.52,335.61Z" fill="#fdd295"/>
<path d="M138.74,338.35 160.11,338.35 160.11,351.13 138.74,351.13Z" fill="#ffaa00"/>
<path d="M160.65,324.65 183.48,324.65 183.48,333.78 160.65,333.78Z" fill="#ffff00"/>
<path d="M160.65,333.78 183.48,333.78 183.48,345.65 160.65,345.65Z" fill="#ffaa00"/>
<path d="M160.65,345.65 188.96,345.65 188.96,357.52 160.65,357.52Z" fill="#ffaa00"/>
<path d="M185.31,342.91 203.57,342.91 203.57,353.87 188.96,353.87Z" fill="#ffaa00"/>
<path d="M143.31,351.13 167.05,351.13 188.96,355.7 188.96,365.74 167.05,365.74 143.31,365.74Z" fill="#ee0000"/>
<path d="M110.07,349.31 143.31,350.22 143.31,365.74 128.7,365.74 126.51,369.39 125.96,374.87 110.07,357.52Z" fill="#ffaa00"/>
<path d="M96.19,349.85 102.77,349.85 105.32,361.18 112.26,371.77 121.39,377.98 121.39,381.26 115.91,381.26 108.61,374.87 102.22,366.65 97.29,357.52Z" fill="#ffff00"/>
<path d="M104.96,353.87 110.44,350.22 110.44,357.52 125.04,373.96 119.57,377.61 112.26,372.13 104.96,363Z" fill="#fdd295"/>
<path d="M126.87,365.74 166.13,365.74 166.13,384 148.78,383.45 137.83,383.09 127.78,379.44 125.96,373.96Z" fill="#ffaa00"/>
<path d="M166.13,365.74 192.61,366.65 192.61,375.78 172.52,374.87Z" fill="#ee0000"/>
<path d="M154.26,375.78 172.52,373.96 192.61,377.61 192.61,390.39 183.48,397.7 179.83,403.18 174.35,397.7 167.05,390.39 157.92,388.57Z" fill="#fdd295"/>
<path d="M188.96,353.87 205.4,353.87 207.22,368.48 203.57,377.61 192.61,377.61 190.79,366.65Z" fill="#ee0000"/>
<path d="M202.66,346.57 214.53,346.57 218.18,353.87 210.87,366.65 203.57,366.65Z" fill="#ee0000"/>
<ellipse cx="104.96" cy="341.09" rx="3.65" ry="1.83" fill="#ffff00"/>
<ellipse cx="148.78" cy="329.22" rx="5.48" ry="1.83" fill="#ffff00"/>
<ellipse cx="188.05" cy="332.87" rx="5.11" ry="7.3" fill="#ffff00"/>
<ellipse cx="214.53" cy="338.35" rx="8.22" ry="3.65" fill="#ffff00"/>
<ellipse cx="179.83" cy="383.09" rx="6.39" ry="4.57" fill="#ffff00"/>
<ellipse cx="240.09" cy="364.83" rx="9.13" ry="3.65" fill="#ffff00"/>
<ellipse cx="236.44" cy="361.18" rx="4.57" ry="2.74" fill="#ffff00"/>
<ellipse cx="199" cy="384" rx="4.57" ry="5.48" fill="#ffff00"/>
<ellipse cx="214.53" cy="379.44" rx="4.57" ry="6.39" fill="#ffff00"/>
<ellipse cx="232.79" cy="370.31" rx="4.57" ry="2.19" fill="#ffff00"/>
<ellipse cx="230.96" cy="397.7" rx="2.19" ry="4.57" fill="#ffff00"/>
<ellipse cx="247.4" cy="348.39" rx="8.22" ry="7.3" fill="#ffff00"/>
<ellipse cx="262.01" cy="344.74" rx="4.57" ry="3.65" fill="#ffff00"/>
<ellipse cx="111.35" cy="330.13" rx="2.74" ry="2.19" fill="#fdd295"/>
<ellipse cx="145.13" cy="342.91" rx="3.65" ry="2.74" fill="#fdd295"/>
<ellipse cx="179.83" cy="329.22" rx="3.65" ry="2.74" fill="#fdd295"/>
<ellipse cx="196.26" cy="333.78" rx="3.65" ry="2.19" fill="#fdd295"/>
<ellipse cx="222.74" cy="344.74" rx="6.39" ry="3.65" fill="#fdd295"/>
<ellipse cx="207.22" cy="341.09" rx="3.65" ry="2.19" fill="#fdd295"/>
<ellipse cx="119.57" cy="361.18" rx="3.65" ry="3.65" fill="#fdd295"/>
<ellipse cx="150.61" cy="370.31" rx="4.57" ry="3.65" fill="#fdd295"/>
<ellipse cx="223.66" cy="362.09" rx="8.22" ry="3.65" fill="#fdd295"/>
<ellipse cx="227.31" cy="352.96" rx="8.22" ry="4.57" fill="#fdd295"/>
<ellipse cx="214.53" cy="377.61" rx="2.19" ry="2.74" fill="#fdd295"/>
<ellipse cx="231.87" cy="373.96" rx="3.65" ry="2.74" fill="#fdd295"/>
<ellipse cx="240.09" cy="370.31" rx="10.04" ry="3.29" fill="#fdd295"/>
<ellipse cx="247.4" cy="342.91" rx="3.65" ry="2.19" fill="#fdd295"/>
<ellipse cx="148.78" cy="363" rx="4.57" ry="2.74" fill="#ffaa00"/>
<ellipse cx="119.57" cy="368.48" rx="3.65" ry="3.65" fill="#ffaa00"/>
<ellipse cx="168.87" cy="370.31" rx="2.74" ry="3.65" fill="#ffaa00"/>
<ellipse cx="167.05" cy="378.52" rx="3.29" ry="2.74" fill="#ffaa00"/>
<ellipse cx="174.35" cy="393.13" rx="3.65" ry="3.65" fill="#ffaa00"/>
<ellipse cx="220" cy="352.96" rx="2.74" ry="3.65" fill="#ffaa00"/>
<ellipse cx="157" cy="342" rx="3.29" ry="3.29" fill="#ee0000"/>
<ellipse cx="168.87" cy="349.31" rx="8.22" ry="5.11" fill="#ee0000"/>
<ellipse cx="206.31" cy="344.74" rx="3.65" ry="1.83" fill="#ee0000"/>
<ellipse cx="199" cy="346.57" rx="3.65" ry="2.74" fill="#ee0000"/>
<ellipse cx="140.57" cy="357.52" rx="3.29" ry="7.3" fill="#ee0000"/>
<ellipse cx="113.17" cy="353.87" rx="2.74" ry="3.65" fill="#ee0000"/>
<ellipse cx="127.78" cy="352.96" rx="1.46" ry="2.74" fill="#ee0000"/>
<ellipse cx="132.71" cy="376.7" rx="4.57" ry="3.29" fill="#ee0000"/>
<ellipse cx="140.57" cy="368.11" rx="2.74" ry="2.19" fill="#ee0000"/>
<ellipse cx="158.83" cy="375.78" rx="4.57" ry="6.39" fill="#ee0000"/>
<ellipse cx="158.83" cy="386.74" rx="3.29" ry="3.65" fill="#ee0000"/>
<ellipse cx="214.53" cy="366.65" rx="7.3" ry="2.74" fill="#ee0000"/>
<ellipse cx="224.57" cy="377.61" rx="6.39" ry="6.39" fill="#ee0000"/>
<ellipse cx="167.05" cy="358.44" rx="4.57" ry="4.57" fill="#7a0000"/>
<ellipse cx="174.35" cy="358.44" rx="3.65" ry="2.19" fill="#7a0000"/>
<ellipse cx="197.18" cy="371.22" rx="5.48" ry="5.11" fill="#7a0000"/>
<ellipse cx="203.57" cy="363" rx="3.65" ry="4.57" fill="#7a0000"/>
<ellipse cx="210.87" cy="353.87" rx="2.74" ry="6.39" fill="#7a0000" transform="rotate(30 210.87 353.87)"/>
<ellipse cx="207.22" cy="364.83" rx="2.74" ry="2.19" fill="#7a0000"/>
<ellipse cx="225.48" cy="377.61" rx="2.74" ry="4.02" fill="#7a0000" transform="rotate(40 225.48 377.61)"/>
</g></g>
<use href="#lk" fill="#fff"/>
<use href="#st" fill="none" stroke="#111" stroke-width="1.1" stroke-linejoin="round"/>
<use href="#ol" fill="none" stroke="#111" stroke-width="1.2" stroke-linejoin="round"/>
</g>
<rect x="93.6" y="321.1" width="186.2" height="87.7" fill="none" stroke="#333" stroke-width="1.1"/>
<path d="M109.39,321.1v2.2M109.39,408.8v-2.2M141.29,321.1v2.2M141.29,408.8v-2.2M173.19,321.1v2.2M173.19,408.8v-2.2M205.09,321.1v2.2M205.09,408.8v-2.2M236.99,321.1v2.2M236.99,408.8v-2.2M268.89,321.1v2.2M268.89,408.8v-2.2M93.6,406.4h2.2M279.8,406.4h-2.2M93.6,389.37h2.2M279.8,389.37h-2.2M93.6,372.35h2.2M279.8,372.35h-2.2M93.6,355.32h2.2M279.8,355.32h-2.2M93.6,338.3h2.2M279.8,338.3h-2.2" stroke="#333" stroke-width="1" fill="none"/>
<text class="t" x="107.39" y="426.6" text-anchor="middle">-120</text>
<text class="t" x="139.29" y="426.6" text-anchor="middle">-110</text>
<text class="t" x="171.19" y="426.6" text-anchor="middle">-100</text>
<text class="t" x="203.09" y="426.6" text-anchor="middle">-90</text>
<text class="t" x="234.99" y="426.6" text-anchor="middle">-80</text>
<text class="t" x="266.89" y="426.6" text-anchor="middle">-70</text>
<text class="t" x="89.1" y="410.6" text-anchor="end">25</text>
<text class="t" x="89.1" y="393.57" text-anchor="end">30</text>
<text class="t" x="89.1" y="376.55" text-anchor="end">35</text>
<text class="t" x="89.1" y="359.52" text-anchor="end">40</text>
<text class="t" x="89.1" y="342.5" text-anchor="end">45</text>
<text class="pl" x="174.8" y="315.6" text-anchor="middle">(i)</text>
<g transform="translate(738.39,491.52) scale(3.19,-3.405)">
<g clip-path="url(#us)"><g transform="scale(0.31,-0.29) translate(-738.39,-491.52)" filter="url(#tx)">
<rect x="337.8" y="319.1" width="190.2" height="91.7" fill="#ffff00"/>
<path d="M342.74,324.65 365.57,324.65 365.57,335.61 343.65,335.61Z" fill="#18a0f0"/>
<path d="M343.65,348.39 356.44,348.39 356.44,357.52 367.39,372.13 369.22,379.44 361.91,379.44 350.96,368.48 344.57,355.7Z" fill="#fdca78"/>
<path d="M372.87,366.65 390.22,366.65 390.22,383.09 374.7,381.26 372.87,375.78Z" fill="#00dcf8"/>
<path d="M406.65,345.65 434.96,344.74 449.57,342.91 453.22,353.87 453.22,368.48 449.57,379.44 438.61,379.44 438.61,375.78 411.22,375.78 411.22,366.65 406.65,357.52Z" fill="#ee0000"/>
<path d="M429.48,324.65 445,326.48 445,335.61 442.26,341.09 431.31,342 429.48,335.61Z" fill="#1e6af5"/>
<ellipse cx="467.83" cy="373.96" rx="2.74" ry="1.83" fill="#ffffff"/>
<ellipse cx="347.3" cy="342.91" rx="3.65" ry="3.65" fill="#55eea0"/>
<ellipse cx="361" cy="344.74" rx="3.65" ry="2.74" fill="#ffff00"/>
<ellipse cx="372.87" cy="344.74" rx="3.65" ry="2.19" fill="#ffff00"/>
<ellipse cx="350.96" cy="355.7" rx="3.65" ry="3.65" fill="#ffff00"/>
<ellipse cx="382" cy="375.78" rx="5.48" ry="5.48" fill="#55eea0"/>
<ellipse cx="414.87" cy="328.3" rx="4.57" ry="2.19" fill="#ffff00"/>
<ellipse cx="425.83" cy="381.26" rx="10.96" ry="5.48" fill="#ffff00"/>
<ellipse cx="408.48" cy="386.74" rx="5.48" ry="3.65" fill="#55eea0"/>
<ellipse cx="427.66" cy="390.39" rx="7.3" ry="4.57" fill="#55eea0"/>
<ellipse cx="455.05" cy="337.44" rx="7.3" ry="6.39" fill="#55eea0"/>
<ellipse cx="453.22" cy="331.96" rx="3.65" ry="2.19" fill="#ffff00"/>
<ellipse cx="467.83" cy="364.83" rx="12.78" ry="4.57" fill="#ffff00"/>
<ellipse cx="471.48" cy="363" rx="4.57" ry="1.83" fill="#55eea0"/>
<ellipse cx="460.53" cy="379.44" rx="4.57" ry="5.48" fill="#ffff00"/>
<ellipse cx="445" cy="384.92" rx="4.57" ry="4.57" fill="#55eea0"/>
<ellipse cx="471.48" cy="378.52" rx="5.11" ry="5.48" fill="#ffff00"/>
<ellipse cx="484.27" cy="373.96" rx="8.22" ry="4.57" fill="#55eea0"/>
<ellipse cx="479.7" cy="400.44" rx="2.19" ry="3.65" fill="#55eea0"/>
<ellipse cx="489.74" cy="364.83" rx="7.3" ry="2.74" fill="#55eea0"/>
<ellipse cx="493.4" cy="346.57" rx="9.13" ry="6.39" fill="#ffff00"/>
<ellipse cx="505.27" cy="346.57" rx="3.65" ry="3.65" fill="#55eea0"/>
<ellipse cx="460.53" cy="370.31" rx="8.22" ry="2.19" fill="#55eea0"/>
<ellipse cx="486.09" cy="372.13" rx="7.3" ry="4.57" fill="#55eea0"/>
<ellipse cx="354.61" cy="341.09" rx="9.13" ry="6.39" fill="#00dcf8"/>
<ellipse cx="371.04" cy="328.3" rx="5.48" ry="3.65" fill="#00dcf8"/>
<ellipse cx="375.61" cy="341.09" rx="7.3" ry="6.39" fill="#fdca78"/>
<ellipse cx="392.96" cy="331.04" rx="12.78" ry="5.48" fill="#fdca78"/>
<ellipse cx="367.39" cy="366.65" rx="4.57" ry="3.65" fill="#fdca78"/>
<ellipse cx="382" cy="358.44" rx="7.3" ry="7.3" fill="#fdca78"/>
<ellipse cx="400.26" cy="373.96" rx="9.13" ry="8.22" fill="#fdca78"/>
<ellipse cx="418.52" cy="329.22" rx="10.04" ry="4.57" fill="#fdca78"/>
<ellipse cx="409.39" cy="386.74" rx="2.19" ry="1.83" fill="#00dcf8"/>
<ellipse cx="420.35" cy="395.87" rx="4.57" ry="4.57" fill="#fdca78"/>
<ellipse cx="445.92" cy="337.44" rx="3.65" ry="6.39" fill="#00dcf8"/>
<ellipse cx="467.83" cy="339.26" rx="4.57" ry="3.65" fill="#00dcf8"/>
<ellipse cx="475.14" cy="353.87" rx="8.22" ry="4.57" fill="#fdca78"/>
<ellipse cx="452.31" cy="379.44" rx="3.65" ry="4.57" fill="#00dcf8"/>
<ellipse cx="487.92" cy="370.31" rx="3.65" ry="2.19" fill="#00dcf8"/>
<ellipse cx="489.74" cy="352.96" rx="5.48" ry="2.74" fill="#00dcf8"/>
<ellipse cx="458.7" cy="379.44" rx="3.65" ry="4.57" fill="#00dcf8"/>
<ellipse cx="482.44" cy="375.78" rx="3.65" ry="2.74" fill="#00dcf8"/>
<ellipse cx="385.65" cy="333.78" rx="3.65" ry="2.19" fill="#ffaa00"/>
<ellipse cx="354.61" cy="361.18" rx="6.39" ry="6.39" fill="#ffaa00"/>
<ellipse cx="365.57" cy="357.52" rx="8.22" ry="8.22" fill="#ffaa00"/>
<ellipse cx="368.31" cy="375.78" rx="2.74" ry="2.74" fill="#18a0f0"/>
<ellipse cx="400.26" cy="358.44" rx="10.04" ry="6.39" fill="#ffaa00"/>
<ellipse cx="379.26" cy="372.13" rx="2.74" ry="2.74" fill="#18a0f0"/>
<ellipse cx="403.92" cy="371.22" rx="3.65" ry="2.74" fill="#ffaa00"/>
<ellipse cx="418.52" cy="340.17" rx="10.04" ry="4.57" fill="#ffaa00"/>
<ellipse cx="416.7" cy="370.31" rx="4.57" ry="3.65" fill="#ffaa00"/>
<ellipse cx="480.61" cy="375.78" rx="2.19" ry="1.83" fill="#18a0f0"/>
<ellipse cx="515.31" cy="334.7" rx="7.3" ry="6.39" fill="#18a0f0"/>
<ellipse cx="391.13" cy="331.04" rx="7.3" ry="3.65" fill="#ffaa00"/>
<ellipse cx="349.13" cy="329.22" rx="5.48" ry="4.02" fill="#1e6af5"/>
<ellipse cx="386.57" cy="333.78" rx="2.19" ry="1.28" fill="#ee0000"/>
<ellipse cx="359.17" cy="366.65" rx="1.83" ry="2.19" fill="#ee0000"/>
<ellipse cx="361" cy="352.04" rx="4.57" ry="2.74" fill="#ee0000"/>
<ellipse cx="378.35" cy="357.52" rx="1.83" ry="1.83" fill="#ee0000"/>
<ellipse cx="394.78" cy="344.74" rx="10.96" ry="6.39" fill="#ee0000"/>
<ellipse cx="407.57" cy="359.35" rx="4.57" ry="5.48" fill="#ee0000"/>
<ellipse cx="467.83" cy="347.48" rx="3.65" ry="2.19" fill="#ee0000"/>
<ellipse cx="460.53" cy="353.87" rx="4.57" ry="4.57" fill="#ee0000"/>
<ellipse cx="466.92" cy="352.04" rx="2.19" ry="1.83" fill="#ee0000"/>
<ellipse cx="475.14" cy="392.22" rx="4.02" ry="5.48" fill="#1e6af5"/>
<ellipse cx="487.01" cy="364.83" rx="1.46" ry="1.1" fill="#ee0000"/>
<ellipse cx="518.05" cy="335.61" rx="2.74" ry="2.74" fill="#1e6af5"/>
<ellipse cx="394.78" cy="346.57" rx="10.04" ry="5.48" fill="#ee0000"/>
<ellipse cx="403.92" cy="359.35" rx="7.3" ry="5.48" fill="#ee0000"/>
<ellipse cx="393.87" cy="344.74" rx="3.83" ry="2.81" fill="#7a0000"/>
<ellipse cx="418.52" cy="350.22" rx="7.67" ry="3.83" fill="#7a0000"/>
<ellipse cx="424" cy="360.26" rx="7.67" ry="3.83" fill="#7a0000"/>
<ellipse cx="440.44" cy="348.39" rx="5.11" ry="3.2" fill="#7a0000"/>
<ellipse cx="444.09" cy="361.18" rx="5.11" ry="5.11" fill="#7a0000"/>
<ellipse cx="442.26" cy="372.13" rx="3.83" ry="3.83" fill="#7a0000"/>
<ellipse cx="455.05" cy="355.7" rx="2.56" ry="4.47" fill="#7a0000"/>
<ellipse cx="438.61" cy="331.04" rx="4.57" ry="4.57" fill="#0a14ee"/>
<ellipse cx="475.14" cy="389.48" rx="2.19" ry="2.74" fill="#0a14ee"/>
</g></g>
<use href="#lk" fill="#fff"/>
<use href="#st" fill="none" stroke="#111" stroke-width="1.1" stroke-linejoin="round"/>
<use href="#ol" fill="none" stroke="#111" stroke-width="1.2" stroke-linejoin="round"/>
</g>
<rect x="339.8" y="321.1" width="186.2" height="87.7" fill="none" stroke="#333" stroke-width="1.1"/>
<path d="M355.59,321.1v2.2M355.59,408.8v-2.2M387.49,321.1v2.2M387.49,408.8v-2.2M419.39,321.1v2.2M419.39,408.8v-2.2M451.29,321.1v2.2M451.29,408.8v-2.2M483.19,321.1v2.2M483.19,408.8v-2.2M515.09,321.1v2.2M515.09,408.8v-2.2M339.8,406.4h2.2M526,406.4h-2.2M339.8,389.37h2.2M526,389.37h-2.2M339.8,372.35h2.2M526,372.35h-2.2M339.8,355.32h2.2M526,355.32h-2.2M339.8,338.3h2.2M526,338.3h-2.2" stroke="#333" stroke-width="1" fill="none"/>
<text class="t" x="353.59" y="426.6" text-anchor="middle">-120</text>
<text class="t" x="385.49" y="426.6" text-anchor="middle">-110</text>
<text class="t" x="417.39" y="426.6" text-anchor="middle">-100</text>
<text class="t" x="449.29" y="426.6" text-anchor="middle">-90</text>
<text class="t" x="481.19" y="426.6" text-anchor="middle">-80</text>
<text class="t" x="513.09" y="426.6" text-anchor="middle">-70</text>
<text class="t" x="335.3" y="410.6" text-anchor="end">25</text>
<text class="t" x="335.3" y="393.57" text-anchor="end">30</text>
<text class="t" x="335.3" y="376.55" text-anchor="end">35</text>
<text class="t" x="335.3" y="359.52" text-anchor="end">40</text>
<text class="t" x="335.3" y="342.5" text-anchor="end">45</text>
<text class="pl" x="421" y="315.6" text-anchor="middle">(j)</text>
<g transform="translate(984.09,491.52) scale(3.19,-3.405)">
<g clip-path="url(#us)"><g transform="scale(0.31,-0.29) translate(-984.09,-491.52)" filter="url(#tx)">
<rect x="583.5" y="319.1" width="190.2" height="91.7" fill="#fdca78"/>
<path d="M588.74,324.65 611.57,324.65 611.57,335.61 589.65,335.61Z" fill="#18a0f0"/>
<path d="M589.65,348.39 602.44,348.39 602.44,357.52 613.39,372.13 615.22,379.44 607.91,379.44 596.96,368.48 590.57,355.7Z" fill="#ffff00"/>
<path d="M652.65,345.65 680.96,344.74 695.57,342.91 699.22,353.87 699.22,368.48 695.57,379.44 684.61,379.44 684.61,375.78 657.22,375.78 657.22,366.65 652.65,357.52Z" fill="#ee0000"/>
<path d="M675.48,324.65 691,326.48 691,335.61 688.26,341.09 677.31,342 675.48,335.61Z" fill="#1e6af5"/>
<ellipse cx="708.35" cy="341.09" rx="2.74" ry="2.74" fill="#ffffff"/>
<ellipse cx="607" cy="343.83" rx="4.57" ry="3.65" fill="#ffff00"/>
<ellipse cx="620.7" cy="341.09" rx="8.22" ry="6.39" fill="#ffff00"/>
<ellipse cx="628" cy="375.78" rx="8.22" ry="7.3" fill="#ffff00"/>
<ellipse cx="662.7" cy="339.26" rx="9.13" ry="4.57" fill="#ffff00"/>
<ellipse cx="671.83" cy="383.09" rx="10.96" ry="5.48" fill="#ffff00"/>
<ellipse cx="654.48" cy="386.74" rx="5.48" ry="3.65" fill="#55eea0"/>
<ellipse cx="673.66" cy="391.31" rx="6.39" ry="3.65" fill="#55eea0"/>
<ellipse cx="701.05" cy="335.61" rx="7.3" ry="6.39" fill="#ffff00"/>
<ellipse cx="699.22" cy="339.26" rx="3.65" ry="2.74" fill="#55eea0"/>
<ellipse cx="715.66" cy="341.09" rx="4.57" ry="3.65" fill="#ffff00"/>
<ellipse cx="713.83" cy="364.83" rx="12.78" ry="4.57" fill="#ffff00"/>
<ellipse cx="724.79" cy="363" rx="3.65" ry="1.83" fill="#55eea0"/>
<ellipse cx="698.31" cy="379.44" rx="3.65" ry="4.57" fill="#55eea0"/>
<ellipse cx="706.53" cy="379.44" rx="4.57" ry="5.48" fill="#ffff00"/>
<ellipse cx="691" cy="384" rx="4.57" ry="4.57" fill="#ffff00"/>
<ellipse cx="717.48" cy="378.52" rx="5.11" ry="5.48" fill="#ffff00"/>
<ellipse cx="730.27" cy="373.96" rx="8.22" ry="4.57" fill="#55eea0"/>
<ellipse cx="725.7" cy="400.44" rx="2.19" ry="3.65" fill="#55eea0"/>
<ellipse cx="735.74" cy="363.91" rx="7.3" ry="2.74" fill="#ffff00"/>
<ellipse cx="739.4" cy="346.57" rx="9.13" ry="6.39" fill="#ffff00"/>
<ellipse cx="736.66" cy="353.87" rx="4.57" ry="2.19" fill="#55eea0"/>
<ellipse cx="751.27" cy="346.57" rx="3.65" ry="3.65" fill="#55eea0"/>
<ellipse cx="598.78" cy="340.17" rx="8.22" ry="5.48" fill="#00dcf8"/>
<ellipse cx="617.04" cy="328.3" rx="5.48" ry="3.65" fill="#00dcf8"/>
<ellipse cx="629.83" cy="330.13" rx="4.57" ry="2.74" fill="#fdca78"/>
<ellipse cx="602.44" cy="364.83" rx="5.48" ry="5.48" fill="#fdca78"/>
<ellipse cx="611.57" cy="357.52" rx="8.22" ry="8.22" fill="#fdca78"/>
<ellipse cx="628" cy="358.44" rx="7.3" ry="7.3" fill="#fdca78"/>
<ellipse cx="647.18" cy="357.52" rx="4.57" ry="4.57" fill="#fdca78"/>
<ellipse cx="625.26" cy="373.05" rx="2.19" ry="2.19" fill="#00dcf8"/>
<ellipse cx="646.26" cy="373.96" rx="9.13" ry="8.22" fill="#fdca78"/>
<ellipse cx="664.52" cy="329.22" rx="10.04" ry="4.57" fill="#fdca78"/>
<ellipse cx="666.35" cy="395.87" rx="4.57" ry="4.57" fill="#fdca78"/>
<ellipse cx="691.92" cy="337.44" rx="2.74" ry="5.48" fill="#00dcf8"/>
<ellipse cx="721.14" cy="353.87" rx="8.22" ry="4.57" fill="#fdca78"/>
<ellipse cx="735.74" cy="370.31" rx="3.65" ry="2.19" fill="#00dcf8"/>
<ellipse cx="591.48" cy="342.91" rx="2.74" ry="3.65" fill="#18a0f0"/>
<ellipse cx="638.96" cy="331.04" rx="12.78" ry="5.48" fill="#ffaa00"/>
<ellipse cx="626.18" cy="353.87" rx="2.74" ry="2.19" fill="#ffaa00"/>
<ellipse cx="633.48" cy="342.91" rx="3.65" ry="2.74" fill="#ffaa00"/>
<ellipse cx="673.66" cy="372.13" rx="4.57" ry="2.74" fill="#ffaa00"/>
<ellipse cx="717.48" cy="352.96" rx="2.74" ry="2.19" fill="#ffaa00"/>
<ellipse cx="761.31" cy="334.7" rx="7.3" ry="6.39" fill="#18a0f0"/>
<ellipse cx="595.13" cy="329.22" rx="5.48" ry="4.02" fill="#1e6af5"/>
<ellipse cx="605.17" cy="365.74" rx="1.83" ry="2.56" fill="#ee0000"/>
<ellipse cx="641.7" cy="345.65" rx="10.04" ry="5.48" fill="#ee0000"/>
<ellipse cx="638.96" cy="359.35" rx="4.57" ry="6.39" fill="#ee0000"/>
<ellipse cx="654.48" cy="359.35" rx="4.57" ry="6.39" fill="#ee0000"/>
<ellipse cx="645.35" cy="372.13" rx="4.57" ry="3.65" fill="#ee0000"/>
<ellipse cx="713.83" cy="347.48" rx="3.65" ry="2.19" fill="#ee0000"/>
<ellipse cx="721.14" cy="392.22" rx="4.02" ry="5.48" fill="#1e6af5"/>
<ellipse cx="648.09" cy="357.52" rx="9.13" ry="7.3" fill="#ee0000"/>
<ellipse cx="640.78" cy="346.57" rx="9.13" ry="5.48" fill="#ee0000"/>
<ellipse cx="662.7" cy="349.31" rx="5.48" ry="2.74" fill="#7a0000"/>
<ellipse cx="670" cy="360.26" rx="6.57" ry="3.29" fill="#7a0000"/>
<ellipse cx="686.44" cy="348.39" rx="4.38" ry="2.74" fill="#7a0000"/>
<ellipse cx="690.09" cy="361.18" rx="4.38" ry="4.38" fill="#7a0000"/>
<ellipse cx="688.26" cy="372.13" rx="3.29" ry="3.29" fill="#7a0000"/>
<ellipse cx="701.05" cy="355.7" rx="2.19" ry="3.83" fill="#7a0000"/>
<ellipse cx="684.61" cy="331.04" rx="4.57" ry="4.57" fill="#0a14ee"/>
<ellipse cx="721.14" cy="389.48" rx="2.19" ry="2.74" fill="#0a14ee"/>
<ellipse cx="659.05" cy="348.39" rx="4.57" ry="2.19" fill="#7a0000"/>
<ellipse cx="689.18" cy="373.05" rx="4.57" ry="3.65" fill="#7a0000"/>
</g></g>
<use href="#lk" fill="#fff"/>
<use href="#st" fill="none" stroke="#111" stroke-width="1.1" stroke-linejoin="round"/>
<use href="#ol" fill="none" stroke="#111" stroke-width="1.2" stroke-linejoin="round"/>
</g>
<rect x="585.5" y="321.1" width="186.2" height="87.7" fill="none" stroke="#333" stroke-width="1.1"/>
<path d="M601.29,321.1v2.2M601.29,408.8v-2.2M633.19,321.1v2.2M633.19,408.8v-2.2M665.09,321.1v2.2M665.09,408.8v-2.2M696.99,321.1v2.2M696.99,408.8v-2.2M728.89,321.1v2.2M728.89,408.8v-2.2M760.79,321.1v2.2M760.79,408.8v-2.2M585.5,406.4h2.2M771.7,406.4h-2.2M585.5,389.37h2.2M771.7,389.37h-2.2M585.5,372.35h2.2M771.7,372.35h-2.2M585.5,355.32h2.2M771.7,355.32h-2.2M585.5,338.3h2.2M771.7,338.3h-2.2" stroke="#333" stroke-width="1" fill="none"/>
<text class="t" x="599.29" y="426.6" text-anchor="middle">-120</text>
<text class="t" x="631.19" y="426.6" text-anchor="middle">-110</text>
<text class="t" x="663.09" y="426.6" text-anchor="middle">-100</text>
<text class="t" x="694.99" y="426.6" text-anchor="middle">-90</text>
<text class="t" x="726.89" y="426.6" text-anchor="middle">-80</text>
<text class="t" x="758.79" y="426.6" text-anchor="middle">-70</text>
<text class="t" x="581" y="410.6" text-anchor="end">25</text>
<text class="t" x="581" y="393.57" text-anchor="end">30</text>
<text class="t" x="581" y="376.55" text-anchor="end">35</text>
<text class="t" x="581" y="359.52" text-anchor="end">40</text>
<text class="t" x="581" y="342.5" text-anchor="end">45</text>
<text class="pl" x="666.7" y="315.6" text-anchor="middle">(k)</text>
<g transform="translate(1229.99,491.52) scale(3.19,-3.405)">
<g clip-path="url(#us)"><g transform="scale(0.31,-0.29) translate(-1229.99,-491.52)" filter="url(#tx)">
<rect x="829.4" y="319.1" width="190.2" height="91.7" fill="#ffaa00"/>
<path d="M940.57,360.26 958.83,358.44 977.09,356.61 988.96,358.44 989.88,369.39 977.09,379.44 971.61,386.74 958.83,387.65 940.57,389.48Z" fill="#55eea0"/>
<path d="M833.74,324.65 856.57,324.65 856.57,348.39 834.65,348.39Z" fill="#ffff00"/>
<path d="M834.65,348.39 847.44,348.39 847.44,357.52 856.57,370.31 854.74,377.61 843.78,370.31 835.57,355.7Z" fill="#ffff00"/>
<path d="M863.87,339.26 903.13,339.26 925.96,344.74 925.96,365.74 903.13,366.65 902.22,383.09 882.13,384 863.87,381.26Z" fill="#ee0000"/>
<ellipse cx="957" cy="377.61" rx="1.83" ry="1.83" fill="#ffffff"/>
<ellipse cx="839.22" cy="329.22" rx="4.57" ry="3.65" fill="#55eea0"/>
<ellipse cx="838.3" cy="343.83" rx="3.65" ry="4.57" fill="#55eea0"/>
<ellipse cx="882.13" cy="329.22" rx="12.78" ry="4.57" fill="#ffff00"/>
<ellipse cx="839.22" cy="356.61" rx="2.74" ry="4.57" fill="#55eea0"/>
<ellipse cx="909.52" cy="329.22" rx="10.04" ry="4.57" fill="#ffff00"/>
<ellipse cx="905.87" cy="327.39" rx="4.57" ry="2.19" fill="#55eea0"/>
<ellipse cx="918.66" cy="371.22" rx="9.13" ry="4.57" fill="#ffff00"/>
<ellipse cx="913.18" cy="390.39" rx="4.57" ry="3.29" fill="#55eea0"/>
<ellipse cx="922.31" cy="381.26" rx="4.57" ry="3.65" fill="#ffff00"/>
<ellipse cx="936" cy="384" rx="4.57" ry="5.48" fill="#ffff00"/>
<ellipse cx="958.83" cy="364.83" rx="12.78" ry="4.02" fill="#ffff00"/>
<ellipse cx="962.48" cy="363" rx="4.57" ry="1.83" fill="#55eea0"/>
<ellipse cx="949.7" cy="379.44" rx="7.3" ry="7.3" fill="#55eea0"/>
<ellipse cx="962.48" cy="377.61" rx="5.48" ry="5.48" fill="#55eea0"/>
<ellipse cx="964.31" cy="375.78" rx="2.19" ry="2.19" fill="#ffff00"/>
<ellipse cx="975.27" cy="375.78" rx="3.65" ry="3.65" fill="#55eea0"/>
<ellipse cx="977.09" cy="363" rx="9.13" ry="3.65" fill="#55eea0"/>
<ellipse cx="968.87" cy="394.05" rx="3.65" ry="7.3" fill="#55eea0"/>
<ellipse cx="982.57" cy="350.22" rx="9.13" ry="6.39" fill="#ffff00"/>
<ellipse cx="986.22" cy="350.22" rx="3.65" ry="2.74" fill="#55eea0"/>
<ellipse cx="1007.22" cy="334.7" rx="6.39" ry="5.48" fill="#55eea0"/>
<ellipse cx="999.92" cy="344.74" rx="3.65" ry="3.65" fill="#ffff00"/>
<ellipse cx="958.83" cy="366.65" rx="5.48" ry="2.19" fill="#ffff00"/>
<ellipse cx="947.87" cy="375.78" rx="3.29" ry="4.02" fill="#ffff00"/>
<ellipse cx="965.22" cy="379.44" rx="2.74" ry="3.29" fill="#ffff00"/>
<ellipse cx="973.44" cy="368.48" rx="3.65" ry="1.83" fill="#ffff00"/>
<ellipse cx="916.83" cy="384.92" rx="7.3" ry="5.48" fill="#ffff00"/>
<ellipse cx="913.18" cy="390.39" rx="4.57" ry="3.29" fill="#55eea0"/>
<ellipse cx="845.61" cy="364.83" rx="3.65" ry="4.57" fill="#fdca78"/>
<ellipse cx="909.52" cy="340.17" rx="10.04" ry="4.02" fill="#fdca78"/>
<ellipse cx="915" cy="388.57" rx="11.87" ry="10.04" fill="#fdca78"/>
<ellipse cx="927.79" cy="333.78" rx="7.3" ry="8.22" fill="#fdca78"/>
<ellipse cx="951.53" cy="378.52" rx="3.65" ry="3.65" fill="#00dcf8"/>
<ellipse cx="978.92" cy="370.31" rx="8.22" ry="4.57" fill="#00dcf8"/>
<ellipse cx="970.7" cy="401.35" rx="1.83" ry="2.74" fill="#00dcf8"/>
<ellipse cx="957" cy="375.78" rx="9.13" ry="5.48" fill="#00dcf8"/>
<ellipse cx="971.61" cy="373.96" rx="4.57" ry="3.65" fill="#00dcf8"/>
<ellipse cx="850.17" cy="330.13" rx="4.57" ry="3.65" fill="#18a0f0"/>
<ellipse cx="849.26" cy="342.91" rx="5.48" ry="3.65" fill="#ffaa00"/>
<ellipse cx="873" cy="331.96" rx="4.57" ry="3.65" fill="#ffaa00"/>
<ellipse cx="873" cy="359.35" rx="4.57" ry="5.48" fill="#ffaa00"/>
<ellipse cx="873" cy="377.61" rx="5.48" ry="3.65" fill="#ffaa00"/>
<ellipse cx="893.09" cy="375.78" rx="4.57" ry="4.57" fill="#ffaa00"/>
<ellipse cx="915" cy="360.26" rx="6.39" ry="3.29" fill="#ffaa00"/>
<ellipse cx="931.44" cy="348.39" rx="6.39" ry="4.57" fill="#ffaa00"/>
<ellipse cx="969.79" cy="353.87" rx="4.57" ry="4.57" fill="#ffaa00"/>
<ellipse cx="991.7" cy="342.91" rx="2.74" ry="3.65" fill="#18a0f0"/>
<ellipse cx="911.35" cy="395.87" rx="3.65" ry="3.65" fill="#ffaa00"/>
<ellipse cx="866.61" cy="339.26" rx="7.3" ry="8.22" fill="#ee0000"/>
<ellipse cx="887.61" cy="332.87" rx="5.48" ry="2.74" fill="#ee0000"/>
<ellipse cx="856.57" cy="361.18" rx="8.22" ry="10.96" fill="#ee0000"/>
<ellipse cx="905.87" cy="371.22" rx="4.57" ry="4.57" fill="#ee0000"/>
<ellipse cx="898.57" cy="383.09" rx="4.57" ry="3.65" fill="#ee0000"/>
<ellipse cx="944.22" cy="341.09" rx="5.48" ry="5.48" fill="#ee0000"/>
<ellipse cx="960.66" cy="341.09" rx="5.48" ry="7.3" fill="#ee0000"/>
<ellipse cx="940.57" cy="364.83" rx="5.48" ry="5.48" fill="#ee0000"/>
<ellipse cx="958.83" cy="352.04" rx="6.39" ry="4.57" fill="#ee0000"/>
<ellipse cx="935.09" cy="372.13" rx="5.48" ry="4.57" fill="#ee0000"/>
<ellipse cx="978.92" cy="344.74" rx="2.74" ry="1.46" fill="#ee0000"/>
<ellipse cx="958.83" cy="351.13" rx="8.22" ry="5.11" fill="#ee0000"/>
<ellipse cx="856.57" cy="359.35" rx="4.57" ry="5.48" fill="#7a0000"/>
<ellipse cx="889.44" cy="344.74" rx="10.04" ry="5.48" fill="#7a0000"/>
<ellipse cx="891.26" cy="358.44" rx="10.96" ry="7.3" fill="#7a0000"/>
<ellipse cx="913.18" cy="350.22" rx="8.22" ry="5.48" fill="#7a0000"/>
<ellipse cx="874.83" cy="370.31" rx="5.48" ry="6.39" fill="#7a0000"/>
<ellipse cx="936" cy="360.26" rx="7.3" ry="6.39" fill="#7a0000"/>
<ellipse cx="946.05" cy="355.7" rx="4.02" ry="9.13" fill="#7a0000"/>
<ellipse cx="947.87" cy="357.52" rx="2.74" ry="6.39" fill="#7a0000"/>
</g></g>
<use href="#lk" fill="#fff"/>
<use href="#st" fill="none" stroke="#111" stroke-width="1.1" stroke-linejoin="round"/>
<use href="#ol" fill="none" stroke="#111" stroke-width="1.2" stroke-linejoin="round"/>
</g>
<rect x="831.4" y="321.1" width="186.2" height="87.7" fill="none" stroke="#333" stroke-width="1.1"/>
<path d="M847.19,321.1v2.2M847.19,408.8v-2.2M879.09,321.1v2.2M879.09,408.8v-2.2M910.99,321.1v2.2M910.99,408.8v-2.2M942.89,321.1v2.2M942.89,408.8v-2.2M974.79,321.1v2.2M974.79,408.8v-2.2M1006.69,321.1v2.2M1006.69,408.8v-2.2M831.4,406.4h2.2M1017.6,406.4h-2.2M831.4,389.37h2.2M1017.6,389.37h-2.2M831.4,372.35h2.2M1017.6,372.35h-2.2M831.4,355.32h2.2M1017.6,355.32h-2.2M831.4,338.3h2.2M1017.6,338.3h-2.2" stroke="#333" stroke-width="1" fill="none"/>
<text class="t" x="845.19" y="426.6" text-anchor="middle">-120</text>
<text class="t" x="877.09" y="426.6" text-anchor="middle">-110</text>
<text class="t" x="908.99" y="426.6" text-anchor="middle">-100</text>
<text class="t" x="940.89" y="426.6" text-anchor="middle">-90</text>
<text class="t" x="972.79" y="426.6" text-anchor="middle">-80</text>
<text class="t" x="1004.69" y="426.6" text-anchor="middle">-70</text>
<text class="t" x="826.9" y="410.6" text-anchor="end">25</text>
<text class="t" x="826.9" y="393.57" text-anchor="end">30</text>
<text class="t" x="826.9" y="376.55" text-anchor="end">35</text>
<text class="t" x="826.9" y="359.52" text-anchor="end">40</text>
<text class="t" x="826.9" y="342.5" text-anchor="end">45</text>
<text class="pl" x="912.6" y="315.6" text-anchor="middle">(l)</text>
<g transform="translate(492.19,621.02) scale(3.19,-3.405)">
<g clip-path="url(#us)"><g transform="scale(0.31,-0.29) translate(-492.19,-621.02)" filter="url(#bl)">
<rect x="91.6" y="448.6" width="190.2" height="91.7" fill="#ffffff"/>
<path d="M101.3,468.26 118.65,468.26 118.65,477.39 101.3,477.39Z" fill="#fdd295"/>
<path d="M122.31,457.3 137.83,457.3 137.83,477.39 123.22,477.39Z" fill="#ffff00"/>
<path d="M131.44,455.48 160.11,455.48 160.11,467.35 137.83,467.35 131.44,464.61Z" fill="#ffff00"/>
<path d="M138.74,467.35 160.11,467.35 160.11,480.13 138.74,480.13Z" fill="#ffaa00"/>
<path d="M160.65,453.65 183.48,453.65 183.48,464.61 160.65,464.61Z" fill="#ffff00"/>
<path d="M160.65,464.61 183.48,464.61 183.48,474.65 160.65,474.65Z" fill="#ffaa00"/>
<path d="M143.31,477.39 167.05,473.74 188.96,473.74 203.57,471.91 207.22,482.87 210.87,475.57 220,481.04 209.05,497.48 203.57,508.44 192.61,508.44 192.61,504.78 165.22,504.78 165.22,495.65 143.31,494.74Z" fill="#ee0000"/>
<path d="M110.07,478.31 143.31,479.22 143.31,494.74 128.7,494.74 126.51,498.39 125.96,503.87 110.07,486.52Z" fill="#ffaa00"/>
<path d="M96.19,478.85 102.77,478.85 105.32,490.18 112.26,500.77 121.39,506.98 121.39,510.26 115.91,510.26 108.61,503.87 102.22,495.65 97.29,486.52Z" fill="#ffff00"/>
<path d="M104.96,482.87 110.44,479.22 110.44,486.52 125.04,502.96 119.57,506.61 112.26,501.13 104.96,492Z" fill="#fdd295"/>
<path d="M126.87,494.74 166.13,494.74 166.13,513 148.78,512.45 137.83,512.09 127.78,508.44 125.96,502.96Z" fill="#ffaa00"/>
<path d="M154.26,504.78 172.52,504.78 192.61,506.61 192.61,519.39 183.48,526.7 179.83,532.18 174.35,526.7 167.05,519.39 157.92,517.57Z" fill="#fdd295"/>
<ellipse cx="123.22" cy="459.13" rx="1.83" ry="1.83" fill="#ffffff"/>
<ellipse cx="111.35" cy="460.04" rx="2.74" ry="2.74" fill="#ffff00"/>
<ellipse cx="104.96" cy="470.09" rx="3.65" ry="1.83" fill="#ffff00"/>
<ellipse cx="115.91" cy="475.57" rx="2.74" ry="1.83" fill="#ffff00"/>
<ellipse cx="188.05" cy="462.78" rx="5.11" ry="7.3" fill="#ffff00"/>
<ellipse cx="218.18" cy="470.09" rx="7.3" ry="5.48" fill="#ffff00"/>
<ellipse cx="223.66" cy="475.57" rx="4.57" ry="2.19" fill="#ffff00"/>
<ellipse cx="179.83" cy="512.09" rx="8.22" ry="5.48" fill="#ffff00"/>
<ellipse cx="221.83" cy="492.91" rx="10.96" ry="4.57" fill="#ffff00"/>
<ellipse cx="221.83" cy="482.87" rx="2.74" ry="2.74" fill="#ffff00"/>
<ellipse cx="240.09" cy="499.31" rx="10.04" ry="3.29" fill="#ffff00"/>
<ellipse cx="199" cy="513" rx="4.57" ry="5.48" fill="#ffff00"/>
<ellipse cx="214.53" cy="508.44" rx="4.57" ry="6.39" fill="#ffff00"/>
<ellipse cx="232.79" cy="528.52" rx="2.19" ry="4.57" fill="#ffff00"/>
<ellipse cx="247.4" cy="475.57" rx="8.22" ry="6.39" fill="#ffff00"/>
<ellipse cx="262.01" cy="475.57" rx="5.48" ry="3.65" fill="#ffff00"/>
<ellipse cx="271.14" cy="464.61" rx="4.57" ry="5.48" fill="#ffff00"/>
<ellipse cx="150.61" cy="463.7" rx="5.48" ry="2.74" fill="#fdd295"/>
<ellipse cx="145.13" cy="471.91" rx="3.65" ry="2.74" fill="#fdd295"/>
<ellipse cx="178" cy="460.04" rx="4.57" ry="2.74" fill="#fdd295"/>
<ellipse cx="188.96" cy="460.96" rx="2.74" ry="3.65" fill="#fdd295"/>
<ellipse cx="206.31" cy="470.09" rx="4.57" ry="4.57" fill="#fdd295"/>
<ellipse cx="119.57" cy="490.18" rx="3.65" ry="3.65" fill="#fdd295"/>
<ellipse cx="150.61" cy="499.31" rx="4.57" ry="3.65" fill="#fdd295"/>
<ellipse cx="227.31" cy="482.87" rx="8.22" ry="4.57" fill="#fdd295"/>
<ellipse cx="236.44" cy="501.13" rx="3.65" ry="1.83" fill="#fdd295"/>
<ellipse cx="210.87" cy="504.78" rx="2.19" ry="2.19" fill="#fdd295"/>
<ellipse cx="230.96" cy="505.7" rx="3.65" ry="2.74" fill="#fdd295"/>
<ellipse cx="245.57" cy="471.91" rx="3.65" ry="2.19" fill="#fdd295"/>
<ellipse cx="152.44" cy="486.52" rx="4.57" ry="3.65" fill="#ffaa00"/>
<ellipse cx="159.74" cy="489.26" rx="3.65" ry="2.74" fill="#ffaa00"/>
<ellipse cx="168.87" cy="501.13" rx="2.74" ry="2.74" fill="#ffaa00"/>
<ellipse cx="119.57" cy="497.48" rx="3.65" ry="3.65" fill="#ffaa00"/>
<ellipse cx="170.7" cy="508.44" rx="3.29" ry="2.74" fill="#ffaa00"/>
<ellipse cx="172.52" cy="523.05" rx="3.65" ry="3.65" fill="#ffaa00"/>
<ellipse cx="167.05" cy="471" rx="4.57" ry="2.74" fill="#ee0000"/>
<ellipse cx="113.17" cy="483.78" rx="2.74" ry="4.02" fill="#ee0000"/>
<ellipse cx="140.57" cy="486.52" rx="2.74" ry="6.39" fill="#ee0000"/>
<ellipse cx="127.78" cy="482.87" rx="1.28" ry="2.74" fill="#ee0000"/>
<ellipse cx="132.71" cy="506.61" rx="4.02" ry="3.29" fill="#ee0000"/>
<ellipse cx="140.57" cy="497.85" rx="2.74" ry="2.19" fill="#ee0000"/>
<ellipse cx="158.83" cy="505.7" rx="4.57" ry="5.48" fill="#ee0000"/>
<ellipse cx="158.83" cy="515.74" rx="2.56" ry="3.29" fill="#ee0000"/>
<ellipse cx="178.37" cy="528.89" rx="2.56" ry="2.92" fill="#ee0000"/>
<ellipse cx="223.66" cy="508.44" rx="5.84" ry="5.11" fill="#ee0000"/>
<ellipse cx="178" cy="491.09" rx="10.96" ry="4.57" fill="#7a0000"/>
<ellipse cx="185.31" cy="499.31" rx="9.13" ry="4.57" fill="#7a0000"/>
<ellipse cx="196.26" cy="499.31" rx="5.48" ry="4.57" fill="#7a0000"/>
<ellipse cx="197.18" cy="502.05" rx="4.57" ry="4.57" fill="#7a0000"/>
<ellipse cx="224.57" cy="508.44" rx="2.74" ry="2.74" fill="#7a0000"/>
<ellipse cx="194.44" cy="489.26" rx="4.02" ry="3.65" fill="#7a0000"/>
<ellipse cx="172.52" cy="489.26" rx="6.39" ry="3.65" fill="#7a0000"/>
</g></g>
<use href="#lk" fill="#fff"/>
<use href="#st" fill="none" stroke="#111" stroke-width="1.1" stroke-linejoin="round"/>
<use href="#ol" fill="none" stroke="#111" stroke-width="1.2" stroke-linejoin="round"/>
</g>
<rect x="93.6" y="450.6" width="186.2" height="87.7" fill="none" stroke="#333" stroke-width="1.1"/>
<path d="M109.39,450.6v2.2M109.39,538.3v-2.2M141.29,450.6v2.2M141.29,538.3v-2.2M173.19,450.6v2.2M173.19,538.3v-2.2M205.09,450.6v2.2M205.09,538.3v-2.2M236.99,450.6v2.2M236.99,538.3v-2.2M268.89,450.6v2.2M268.89,538.3v-2.2M93.6,535.9h2.2M279.8,535.9h-2.2M93.6,518.87h2.2M279.8,518.87h-2.2M93.6,501.85h2.2M279.8,501.85h-2.2M93.6,484.82h2.2M279.8,484.82h-2.2M93.6,467.8h2.2M279.8,467.8h-2.2" stroke="#333" stroke-width="1" fill="none"/>
<text class="t" x="107.39" y="556.1" text-anchor="middle">-120</text>
<text class="t" x="139.29" y="556.1" text-anchor="middle">-110</text>
<text class="t" x="171.19" y="556.1" text-anchor="middle">-100</text>
<text class="t" x="203.09" y="556.1" text-anchor="middle">-90</text>
<text class="t" x="234.99" y="556.1" text-anchor="middle">-80</text>
<text class="t" x="266.89" y="556.1" text-anchor="middle">-70</text>
<text class="t" x="89.1" y="540.1" text-anchor="end">25</text>
<text class="t" x="89.1" y="523.07" text-anchor="end">30</text>
<text class="t" x="89.1" y="506.05" text-anchor="end">35</text>
<text class="t" x="89.1" y="489.02" text-anchor="end">40</text>
<text class="t" x="89.1" y="472" text-anchor="end">45</text>
<text class="pl" x="174.8" y="445.1" text-anchor="middle">(m)</text>
<g transform="translate(738.39,621.02) scale(3.19,-3.405)">
<g clip-path="url(#us)"><g transform="scale(0.31,-0.29) translate(-738.39,-621.02)" filter="url(#tx)">
<rect x="337.8" y="448.6" width="190.2" height="91.7" fill="#fdca78"/>
<path d="M342.74,453.65 365.57,453.65 365.57,464.61 343.65,464.61Z" fill="#18a0f0"/>
<path d="M356.44,486.52 374.7,486.52 374.7,508.44 367.39,508.44 358.26,501.13Z" fill="#00dcf8"/>
<path d="M343.65,477.39 356.44,477.39 356.44,486.52 358.26,495.65 350.96,497.48 344.57,484.7Z" fill="#ffff00"/>
<path d="M372.87,495.65 390.22,495.65 390.22,512.09 374.7,510.26 372.87,504.78Z" fill="#00dcf8"/>
<ellipse cx="425.83" cy="515.74" rx="2.19" ry="1.83" fill="#ffffff"/>
<ellipse cx="461.44" cy="470.09" rx="2.74" ry="3.65" fill="#ffffff"/>
<ellipse cx="425.83" cy="513.92" rx="2.74" ry="2.19" fill="#ffffff"/>
<ellipse cx="345.48" cy="471.91" rx="2.74" ry="3.65" fill="#55eea0"/>
<ellipse cx="413.05" cy="460.96" rx="4.57" ry="2.19" fill="#ffff00"/>
<ellipse cx="424" cy="510.26" rx="5.48" ry="4.57" fill="#ffff00"/>
<ellipse cx="433.13" cy="519.39" rx="4.57" ry="6.39" fill="#55eea0"/>
<ellipse cx="436.79" cy="462.78" rx="6.39" ry="7.3" fill="#55eea0"/>
<ellipse cx="453.22" cy="466.44" rx="6.39" ry="5.48" fill="#ffff00"/>
<ellipse cx="484.27" cy="482.87" rx="2.74" ry="2.74" fill="#ffff00"/>
<ellipse cx="467.83" cy="492.91" rx="12.78" ry="4.02" fill="#ffff00"/>
<ellipse cx="458.7" cy="498.39" rx="7.3" ry="1.83" fill="#55eea0"/>
<ellipse cx="471.48" cy="506.61" rx="5.11" ry="5.48" fill="#ffff00"/>
<ellipse cx="475.14" cy="510.26" rx="2.74" ry="2.74" fill="#55eea0"/>
<ellipse cx="484.27" cy="502.96" rx="8.22" ry="4.57" fill="#55eea0"/>
<ellipse cx="479.7" cy="530.35" rx="2.19" ry="3.65" fill="#55eea0"/>
<ellipse cx="487.92" cy="493.83" rx="7.3" ry="3.65" fill="#ffff00"/>
<ellipse cx="493.4" cy="475.57" rx="9.13" ry="6.39" fill="#ffff00"/>
<ellipse cx="509.83" cy="473.74" rx="3.65" ry="3.65" fill="#55eea0"/>
<ellipse cx="418.52" cy="510.26" rx="6.39" ry="4.57" fill="#ffff00"/>
<ellipse cx="425.83" cy="524.87" rx="3.65" ry="3.65" fill="#ffff00"/>
<ellipse cx="433.13" cy="517.57" rx="4.57" ry="7.3" fill="#55eea0"/>
<ellipse cx="352.78" cy="470.09" rx="9.13" ry="6.39" fill="#00dcf8"/>
<ellipse cx="360.09" cy="473.74" rx="4.57" ry="2.74" fill="#fdca78"/>
<ellipse cx="370.13" cy="458.22" rx="4.57" ry="4.57" fill="#00dcf8"/>
<ellipse cx="396.61" cy="488.35" rx="5.48" ry="4.57" fill="#fdca78"/>
<ellipse cx="394.78" cy="486.52" rx="1.83" ry="1.83" fill="#00dcf8"/>
<ellipse cx="382" cy="490.18" rx="6.39" ry="4.57" fill="#00dcf8"/>
<ellipse cx="381.09" cy="482.87" rx="5.48" ry="2.74" fill="#fdca78"/>
<ellipse cx="361.91" cy="481.96" rx="5.48" ry="3.65" fill="#fdca78"/>
<ellipse cx="349.13" cy="484.7" rx="3.65" ry="4.57" fill="#fdca78"/>
<ellipse cx="354.61" cy="499.31" rx="3.65" ry="4.57" fill="#00dcf8"/>
<ellipse cx="400.26" cy="502.96" rx="9.13" ry="8.22" fill="#fdca78"/>
<ellipse cx="418.52" cy="458.22" rx="10.04" ry="4.57" fill="#fdca78"/>
<ellipse cx="425.83" cy="499.31" rx="10.96" ry="4.57" fill="#fdca78"/>
<ellipse cx="420.35" cy="515.74" rx="12.78" ry="10.96" fill="#fdca78"/>
<ellipse cx="432.22" cy="523.05" rx="2.74" ry="2.74" fill="#00dcf8"/>
<ellipse cx="434.96" cy="460.96" rx="3.65" ry="3.65" fill="#00dcf8"/>
<ellipse cx="445.92" cy="470.09" rx="3.65" ry="3.65" fill="#fdca78"/>
<ellipse cx="467.83" cy="470.09" rx="4.57" ry="3.65" fill="#00dcf8"/>
<ellipse cx="460.53" cy="508.44" rx="4.57" ry="5.48" fill="#00dcf8"/>
<ellipse cx="488.83" cy="500.22" rx="3.65" ry="2.19" fill="#00dcf8"/>
<ellipse cx="497.05" cy="473.74" rx="3.65" ry="2.74" fill="#fdca78"/>
<ellipse cx="431.31" cy="521.22" rx="2.74" ry="3.65" fill="#00dcf8"/>
<ellipse cx="376.52" cy="470.09" rx="6.39" ry="6.39" fill="#ffaa00"/>
<ellipse cx="392.96" cy="460.96" rx="11.87" ry="5.48" fill="#ffaa00"/>
<ellipse cx="366.48" cy="491.09" rx="6.39" ry="5.48" fill="#18a0f0"/>
<ellipse cx="380.18" cy="502.96" rx="5.48" ry="6.39" fill="#18a0f0"/>
<ellipse cx="396.61" cy="506.61" rx="2.74" ry="2.74" fill="#ffaa00"/>
<ellipse cx="416.7" cy="468.26" rx="8.22" ry="3.65" fill="#ffaa00"/>
<ellipse cx="422.18" cy="489.26" rx="9.13" ry="4.57" fill="#ffaa00"/>
<ellipse cx="473.31" cy="482.87" rx="10.04" ry="4.57" fill="#ffaa00"/>
<ellipse cx="443.18" cy="502.05" rx="4.57" ry="4.57" fill="#ffaa00"/>
<ellipse cx="445.92" cy="512.09" rx="7.3" ry="5.48" fill="#18a0f0"/>
<ellipse cx="515.31" cy="463.7" rx="7.3" ry="6.39" fill="#18a0f0"/>
<ellipse cx="413.05" cy="519.39" rx="5.48" ry="5.48" fill="#ffaa00"/>
<ellipse cx="418.52" cy="501.13" rx="5.48" ry="2.74" fill="#ffaa00"/>
<ellipse cx="358.26" cy="458.22" rx="5.48" ry="4.02" fill="#1e6af5"/>
<ellipse cx="400.26" cy="475.57" rx="5.48" ry="3.65" fill="#ee0000"/>
<ellipse cx="407.57" cy="488.35" rx="5.48" ry="5.48" fill="#ee0000"/>
<ellipse cx="400.26" cy="501.13" rx="3.65" ry="4.57" fill="#ee0000"/>
<ellipse cx="429.48" cy="481.04" rx="4.57" ry="3.65" fill="#ee0000"/>
<ellipse cx="434.05" cy="488.35" rx="4.57" ry="3.65" fill="#ee0000"/>
<ellipse cx="453.22" cy="472.83" rx="3.29" ry="2.19" fill="#ee0000"/>
<ellipse cx="442.26" cy="474.65" rx="7.3" ry="3.65" fill="#ee0000"/>
<ellipse cx="445" cy="488.35" rx="6.39" ry="7.3" fill="#ee0000"/>
<ellipse cx="455.05" cy="486.52" rx="4.57" ry="7.3" fill="#ee0000"/>
<ellipse cx="453.22" cy="508.44" rx="3.65" ry="5.48" fill="#1e6af5"/>
<ellipse cx="475.14" cy="523.05" rx="4.02" ry="7.3" fill="#1e6af5"/>
<ellipse cx="394.78" cy="473.74" rx="11.87" ry="7.3" fill="#ee0000"/>
<ellipse cx="425.83" cy="476.48" rx="20.09" ry="5.11" fill="#ee0000"/>
<ellipse cx="407.57" cy="486.52" rx="5.48" ry="8.22" fill="#ee0000"/>
<ellipse cx="392.05" cy="463.7" rx="6.39" ry="4.57" fill="#7a0000"/>
<ellipse cx="393.87" cy="473.74" rx="8.22" ry="5.48" fill="#7a0000"/>
<ellipse cx="422.18" cy="472.83" rx="9.13" ry="2.74" fill="#7a0000"/>
<ellipse cx="418.52" cy="479.22" rx="10.96" ry="5.11" fill="#7a0000"/>
<ellipse cx="438.61" cy="473.74" rx="4.57" ry="2.19" fill="#7a0000"/>
<ellipse cx="442.26" cy="487.44" rx="3.65" ry="3.29" fill="#7a0000"/>
<ellipse cx="450.48" cy="513" rx="2.74" ry="3.65" fill="#0a14ee"/>
<ellipse cx="474.22" cy="520.31" rx="2.19" ry="2.74" fill="#0a14ee"/>
<ellipse cx="424" cy="476.48" rx="14.61" ry="2.74" fill="#7a0000"/>
<ellipse cx="449.57" cy="472.83" rx="4.57" ry="2.56" fill="#7a0000"/>
<ellipse cx="407.57" cy="487.44" rx="2.74" ry="5.48" fill="#7a0000"/>
</g></g>
<use href="#lk" fill="#fff"/>
<use href="#st" fill="none" stroke="#111" stroke-width="1.1" stroke-linejoin="round"/>
<use href="#ol" fill="none" stroke="#111" stroke-width="1.2" stroke-linejoin="round"/>
</g>
<rect x="339.8" y="450.6" width="186.2" height="87.7" fill="none" stroke="#333" stroke-width="1.1"/>
<path d="M355.59,450.6v2.2M355.59,538.3v-2.2M387.49,450.6v2.2M387.49,538.3v-2.2M419.39,450.6v2.2M419.39,538.3v-2.2M451.29,450.6v2.2M451.29,538.3v-2.2M483.19,450.6v2.2M483.19,538.3v-2.2M515.09,450.6v2.2M515.09,538.3v-2.2M339.8,535.9h2.2M526,535.9h-2.2M339.8,518.87h2.2M526,518.87h-2.2M339.8,501.85h2.2M526,501.85h-2.2M339.8,484.82h2.2M526,484.82h-2.2M339.8,467.8h2.2M526,467.8h-2.2" stroke="#333" stroke-width="1" fill="none"/>
<text class="t" x="353.59" y="556.1" text-anchor="middle">-120</text>
<text class="t" x="385.49" y="556.1" text-anchor="middle">-110</text>
<text class="t" x="417.39" y="556.1" text-anchor="middle">-100</text>
<text class="t" x="449.29" y="556.1" text-anchor="middle">-90</text>
<text class="t" x="481.19" y="556.1" text-anchor="middle">-80</text>
<text class="t" x="513.09" y="556.1" text-anchor="middle">-70</text>
<text class="t" x="335.3" y="540.1" text-anchor="end">25</text>
<text class="t" x="335.3" y="523.07" text-anchor="end">30</text>
<text class="t" x="335.3" y="506.05" text-anchor="end">35</text>
<text class="t" x="335.3" y="489.02" text-anchor="end">40</text>
<text class="t" x="335.3" y="472" text-anchor="end">45</text>
<text class="pl" x="421" y="445.1" text-anchor="middle">(n)</text>
<g transform="translate(984.09,621.02) scale(3.19,-3.405)">
<g clip-path="url(#us)"><g transform="scale(0.31,-0.29) translate(-984.09,-621.02)" filter="url(#tx)">
<rect x="583.5" y="448.6" width="190.2" height="91.7" fill="#fdca78"/>
<path d="M588.74,453.65 611.57,453.65 611.57,464.61 589.65,464.61Z" fill="#00dcf8"/>
<path d="M589.65,477.39 602.44,477.39 602.44,486.52 611.57,499.31 609.74,506.61 598.78,499.31 590.57,484.7Z" fill="#ffff00"/>
<ellipse cx="707.44" cy="470.09" rx="2.74" ry="3.65" fill="#ffffff"/>
<ellipse cx="593.3" cy="459.13" rx="3.65" ry="3.65" fill="#55eea0"/>
<ellipse cx="626.18" cy="489.26" rx="3.65" ry="2.74" fill="#55eea0"/>
<ellipse cx="611.57" cy="492" rx="8.22" ry="9.13" fill="#ffff00"/>
<ellipse cx="613.39" cy="492" rx="3.65" ry="3.65" fill="#55eea0"/>
<ellipse cx="659.05" cy="460.96" rx="4.57" ry="2.19" fill="#ffff00"/>
<ellipse cx="679.13" cy="517.57" rx="4.57" ry="6.39" fill="#55eea0"/>
<ellipse cx="682.79" cy="462.78" rx="6.39" ry="7.3" fill="#55eea0"/>
<ellipse cx="699.22" cy="466.44" rx="6.39" ry="5.48" fill="#ffff00"/>
<ellipse cx="713.83" cy="470.09" rx="4.57" ry="3.65" fill="#55eea0"/>
<ellipse cx="730.27" cy="482.87" rx="2.74" ry="2.74" fill="#ffff00"/>
<ellipse cx="713.83" cy="492.91" rx="12.78" ry="4.02" fill="#ffff00"/>
<ellipse cx="706.53" cy="508.44" rx="4.57" ry="5.48" fill="#55eea0"/>
<ellipse cx="717.48" cy="506.61" rx="5.11" ry="5.48" fill="#ffff00"/>
<ellipse cx="721.14" cy="510.26" rx="2.74" ry="2.74" fill="#55eea0"/>
<ellipse cx="730.27" cy="502.96" rx="8.22" ry="4.57" fill="#55eea0"/>
<ellipse cx="725.7" cy="530.35" rx="2.19" ry="3.65" fill="#55eea0"/>
<ellipse cx="733.92" cy="493.83" rx="7.3" ry="3.65" fill="#ffff00"/>
<ellipse cx="739.4" cy="475.57" rx="9.13" ry="6.39" fill="#ffff00"/>
<ellipse cx="755.83" cy="473.74" rx="3.65" ry="3.65" fill="#55eea0"/>
<ellipse cx="595.13" cy="470.09" rx="6.39" ry="6.39" fill="#00dcf8"/>
<ellipse cx="606.09" cy="472.83" rx="5.48" ry="3.65" fill="#fdca78"/>
<ellipse cx="616.13" cy="458.22" rx="4.57" ry="3.65" fill="#00dcf8"/>
<ellipse cx="642.61" cy="488.35" rx="5.48" ry="4.57" fill="#fdca78"/>
<ellipse cx="628" cy="488.35" rx="7.3" ry="6.39" fill="#fdca78"/>
<ellipse cx="598.78" cy="492" rx="5.48" ry="5.48" fill="#fdca78"/>
<ellipse cx="628" cy="503.87" rx="8.22" ry="7.3" fill="#fdca78"/>
<ellipse cx="625.26" cy="500.22" rx="3.65" ry="3.29" fill="#00dcf8"/>
<ellipse cx="664.52" cy="458.22" rx="10.04" ry="4.57" fill="#fdca78"/>
<ellipse cx="659.05" cy="513.92" rx="4.57" ry="3.65" fill="#fdca78"/>
<ellipse cx="678.22" cy="521.22" rx="2.74" ry="2.74" fill="#00dcf8"/>
<ellipse cx="684.61" cy="460.96" rx="3.65" ry="3.65" fill="#00dcf8"/>
<ellipse cx="691.92" cy="470.09" rx="3.65" ry="3.65" fill="#fdca78"/>
<ellipse cx="734.83" cy="500.22" rx="3.65" ry="2.19" fill="#00dcf8"/>
<ellipse cx="604.26" cy="458.22" rx="5.48" ry="4.02" fill="#18a0f0"/>
<ellipse cx="622.52" cy="470.09" rx="6.39" ry="6.39" fill="#ffaa00"/>
<ellipse cx="638.96" cy="460.96" rx="11.87" ry="5.48" fill="#ffaa00"/>
<ellipse cx="628" cy="482.87" rx="4.57" ry="2.19" fill="#ffaa00"/>
<ellipse cx="609.74" cy="482.87" rx="4.57" ry="2.74" fill="#ffaa00"/>
<ellipse cx="646.26" cy="502.96" rx="9.13" ry="8.22" fill="#ffaa00"/>
<ellipse cx="662.7" cy="468.26" rx="8.22" ry="3.65" fill="#ffaa00"/>
<ellipse cx="668.18" cy="489.26" rx="9.13" ry="4.57" fill="#ffaa00"/>
<ellipse cx="671.83" cy="499.31" rx="10.96" ry="4.57" fill="#ffaa00"/>
<ellipse cx="666.35" cy="515.74" rx="12.78" ry="10.96" fill="#ffaa00"/>
<ellipse cx="695.57" cy="492" rx="4.57" ry="4.57" fill="#ffaa00"/>
<ellipse cx="719.31" cy="482.87" rx="10.04" ry="4.57" fill="#ffaa00"/>
<ellipse cx="689.18" cy="502.05" rx="4.57" ry="4.57" fill="#ffaa00"/>
<ellipse cx="692.83" cy="512.09" rx="6.39" ry="5.48" fill="#18a0f0"/>
<ellipse cx="761.31" cy="463.7" rx="7.3" ry="6.39" fill="#18a0f0"/>
<ellipse cx="622.52" cy="470.09" rx="5.48" ry="5.48" fill="#ffaa00"/>
<ellipse cx="710.18" cy="482.87" rx="4.57" ry="3.65" fill="#ffaa00"/>
<ellipse cx="638.05" cy="463.7" rx="5.48" ry="3.65" fill="#ee0000"/>
<ellipse cx="646.26" cy="476.48" rx="5.48" ry="3.65" fill="#ee0000"/>
<ellipse cx="606.09" cy="497.48" rx="1.46" ry="1.83" fill="#ee0000"/>
<ellipse cx="646.26" cy="503.87" rx="4.57" ry="5.48" fill="#ee0000"/>
<ellipse cx="675.48" cy="481.04" rx="4.57" ry="3.65" fill="#ee0000"/>
<ellipse cx="670.92" cy="529.44" rx="2.74" ry="2.74" fill="#ee0000"/>
<ellipse cx="698.31" cy="472.83" rx="3.29" ry="2.19" fill="#ee0000"/>
<ellipse cx="688.26" cy="474.65" rx="7.3" ry="3.65" fill="#ee0000"/>
<ellipse cx="689.18" cy="487.44" rx="5.48" ry="5.48" fill="#ee0000"/>
<ellipse cx="699.22" cy="486.52" rx="3.65" ry="4.57" fill="#ee0000"/>
<ellipse cx="697.4" cy="512.09" rx="3.29" ry="4.57" fill="#1e6af5"/>
<ellipse cx="721.14" cy="523.05" rx="4.02" ry="7.3" fill="#1e6af5"/>
<ellipse cx="640.78" cy="473.74" rx="11.87" ry="7.3" fill="#ee0000"/>
<ellipse cx="671.83" cy="476.48" rx="20.09" ry="5.11" fill="#ee0000"/>
<ellipse cx="653.57" cy="486.52" rx="5.48" ry="8.22" fill="#ee0000"/>
<ellipse cx="638.05" cy="463.7" rx="6.39" ry="4.02" fill="#ee0000"/>
<ellipse cx="682.79" cy="488.35" rx="5.48" ry="4.57" fill="#ee0000"/>
<ellipse cx="644.44" cy="503.87" rx="4.57" ry="5.48" fill="#ee0000"/>
<ellipse cx="640.78" cy="473.74" rx="9.13" ry="5.48" fill="#7a0000"/>
<ellipse cx="653.57" cy="488.35" rx="4.57" ry="6.39" fill="#7a0000"/>
<ellipse cx="669.09" cy="472.83" rx="8.22" ry="2.74" fill="#7a0000"/>
<ellipse cx="664.52" cy="479.22" rx="10.96" ry="5.11" fill="#7a0000"/>
<ellipse cx="685.53" cy="473.74" rx="4.57" ry="2.19" fill="#7a0000"/>
<ellipse cx="720.22" cy="520.31" rx="2.19" ry="2.74" fill="#0a14ee"/>
<ellipse cx="640.78" cy="473.74" rx="8.22" ry="5.11" fill="#7a0000"/>
<ellipse cx="670" cy="476.48" rx="14.61" ry="2.92" fill="#7a0000"/>
<ellipse cx="695.57" cy="472.83" rx="5.48" ry="2.56" fill="#7a0000"/>
<ellipse cx="653.57" cy="486.52" rx="3.29" ry="6.39" fill="#7a0000"/>
</g></g>
<use href="#lk" fill="#fff"/>
<use href="#st" fill="none" stroke="#111" stroke-width="1.1" stroke-linejoin="round"/>
<use href="#ol" fill="none" stroke="#111" stroke-width="1.2" stroke-linejoin="round"/>
</g>
<rect x="585.5" y="450.6" width="186.2" height="87.7" fill="none" stroke="#333" stroke-width="1.1"/>
<path d="M601.29,450.6v2.2M601.29,538.3v-2.2M633.19,450.6v2.2M633.19,538.3v-2.2M665.09,450.6v2.2M665.09,538.3v-2.2M696.99,450.6v2.2M696.99,538.3v-2.2M728.89,450.6v2.2M728.89,538.3v-2.2M760.79,450.6v2.2M760.79,538.3v-2.2M585.5,535.9h2.2M771.7,535.9h-2.2M585.5,518.87h2.2M771.7,518.87h-2.2M585.5,501.85h2.2M771.7,501.85h-2.2M585.5,484.82h2.2M771.7,484.82h-2.2M585.5,467.8h2.2M771.7,467.8h-2.2" stroke="#333" stroke-width="1" fill="none"/>
<text class="t" x="599.29" y="556.1" text-anchor="middle">-120</text>
<text class="t" x="631.19" y="556.1" text-anchor="middle">-110</text>
<text class="t" x="663.09" y="556.1" text-anchor="middle">-100</text>
<text class="t" x="694.99" y="556.1" text-anchor="middle">-90</text>
<text class="t" x="726.89" y="556.1" text-anchor="middle">-80</text>
<text class="t" x="758.79" y="556.1" text-anchor="middle">-70</text>
<text class="t" x="581" y="540.1" text-anchor="end">25</text>
<text class="t" x="581" y="523.07" text-anchor="end">30</text>
<text class="t" x="581" y="506.05" text-anchor="end">35</text>
<text class="t" x="581" y="489.02" text-anchor="end">40</text>
<text class="t" x="581" y="472" text-anchor="end">45</text>
<text class="pl" x="666.7" y="445.1" text-anchor="middle">(o)</text>
<g transform="translate(1229.99,621.02) scale(3.19,-3.405)">
<g clip-path="url(#us)"><g transform="scale(0.31,-0.29) translate(-1229.99,-621.02)" filter="url(#tx)">
<rect x="829.4" y="448.6" width="190.2" height="91.7" fill="#ffaa00"/>
<path d="M940.57,489.26 958.83,487.44 977.09,485.61 988.96,487.44 989.88,498.39 977.09,508.44 971.61,515.74 958.83,516.65 940.57,518.48Z" fill="#00dcf8"/>
<path d="M833.74,453.65 856.57,453.65 856.57,477.39 834.65,477.39Z" fill="#ffff00"/>
<path d="M834.65,477.39 847.44,477.39 847.44,486.52 856.57,499.31 854.74,506.61 843.78,499.31 835.57,484.7Z" fill="#ffff00"/>
<ellipse cx="838.3" cy="459.13" rx="4.57" ry="4.57" fill="#55eea0"/>
<ellipse cx="837.39" cy="470.09" rx="3.29" ry="3.65" fill="#55eea0"/>
<ellipse cx="839.22" cy="485.61" rx="2.74" ry="4.57" fill="#55eea0"/>
<ellipse cx="872.09" cy="486.52" rx="6.39" ry="7.3" fill="#ffff00"/>
<ellipse cx="873" cy="503.87" rx="7.3" ry="7.3" fill="#ffff00"/>
<ellipse cx="870.26" cy="502.96" rx="2.19" ry="2.19" fill="#55eea0"/>
<ellipse cx="909.52" cy="458.22" rx="10.04" ry="4.57" fill="#ffff00"/>
<ellipse cx="907.7" cy="456.39" rx="3.65" ry="1.83" fill="#55eea0"/>
<ellipse cx="909.52" cy="469.17" rx="10.04" ry="4.02" fill="#ffff00"/>
<ellipse cx="923.22" cy="515.74" rx="5.48" ry="6.39" fill="#ffff00"/>
<ellipse cx="924.13" cy="517.57" rx="2.74" ry="2.74" fill="#55eea0"/>
<ellipse cx="927.79" cy="462.78" rx="7.3" ry="8.22" fill="#ffff00"/>
<ellipse cx="944.22" cy="464.61" rx="6.39" ry="5.48" fill="#ffff00"/>
<ellipse cx="941.48" cy="462.78" rx="2.74" ry="2.19" fill="#55eea0"/>
<ellipse cx="960.66" cy="470.09" rx="4.57" ry="4.57" fill="#ffff00"/>
<ellipse cx="958.83" cy="492.91" rx="13.7" ry="4.57" fill="#55eea0"/>
<ellipse cx="969.79" cy="490.18" rx="3.65" ry="2.19" fill="#ffff00"/>
<ellipse cx="977.09" cy="492.91" rx="9.13" ry="3.29" fill="#55eea0"/>
<ellipse cx="982.57" cy="479.22" rx="9.13" ry="6.39" fill="#ffff00"/>
<ellipse cx="986.22" cy="481.04" rx="4.57" ry="2.74" fill="#55eea0"/>
<ellipse cx="1007.22" cy="464.61" rx="5.48" ry="5.48" fill="#ffff00"/>
<ellipse cx="1000.83" cy="470.09" rx="3.65" ry="3.65" fill="#55eea0"/>
<ellipse cx="949.7" cy="497.48" rx="7.3" ry="2.74" fill="#55eea0"/>
<ellipse cx="920.48" cy="513.92" rx="4.57" ry="5.48" fill="#ffff00"/>
<ellipse cx="851.09" cy="458.22" rx="4.57" ry="3.65" fill="#00dcf8"/>
<ellipse cx="883.96" cy="459.13" rx="11.87" ry="4.57" fill="#fdca78"/>
<ellipse cx="911.35" cy="515.74" rx="10.96" ry="9.13" fill="#fdca78"/>
<ellipse cx="962.48" cy="494.74" rx="5.48" ry="1.83" fill="#00dcf8"/>
<ellipse cx="936.92" cy="512.09" rx="6.39" ry="6.39" fill="#00dcf8"/>
<ellipse cx="949.7" cy="508.44" rx="7.3" ry="7.3" fill="#00dcf8"/>
<ellipse cx="962.48" cy="506.61" rx="5.48" ry="5.48" fill="#00dcf8"/>
<ellipse cx="975.27" cy="504.78" rx="4.57" ry="3.65" fill="#00dcf8"/>
<ellipse cx="968.87" cy="523.05" rx="4.02" ry="8.22" fill="#00dcf8"/>
<ellipse cx="843.78" cy="470.09" rx="3.65" ry="2.74" fill="#ffaa00"/>
<ellipse cx="867.52" cy="460.96" rx="5.48" ry="4.57" fill="#ffaa00"/>
<ellipse cx="843.78" cy="495.65" rx="4.57" ry="5.48" fill="#ffaa00"/>
<ellipse cx="874.83" cy="484.7" rx="3.65" ry="4.57" fill="#ffaa00"/>
<ellipse cx="874.83" cy="508.44" rx="3.65" ry="2.74" fill="#ffaa00"/>
<ellipse cx="887.61" cy="504.78" rx="3.65" ry="4.57" fill="#ffaa00"/>
<ellipse cx="913.18" cy="470.09" rx="4.57" ry="2.19" fill="#ffaa00"/>
<ellipse cx="929.61" cy="470.09" rx="4.57" ry="2.74" fill="#ffaa00"/>
<ellipse cx="969.79" cy="482.87" rx="4.57" ry="4.57" fill="#ffaa00"/>
<ellipse cx="938.74" cy="515.74" rx="3.65" ry="3.65" fill="#18a0f0"/>
<ellipse cx="951.53" cy="508.44" rx="3.65" ry="4.57" fill="#18a0f0"/>
<ellipse cx="962.48" cy="508.44" rx="2.74" ry="2.74" fill="#18a0f0"/>
<ellipse cx="978.92" cy="500.22" rx="8.22" ry="4.57" fill="#18a0f0"/>
<ellipse cx="969.79" cy="526.7" rx="2.19" ry="4.57" fill="#18a0f0"/>
<ellipse cx="991.7" cy="471.91" rx="2.74" ry="3.65" fill="#18a0f0"/>
<ellipse cx="957" cy="506.61" rx="9.13" ry="5.48" fill="#18a0f0"/>
<ellipse cx="973.44" cy="501.13" rx="4.57" ry="3.65" fill="#18a0f0"/>
<ellipse cx="915" cy="510.26" rx="7.3" ry="5.48" fill="#ffaa00"/>
<ellipse cx="968.87" cy="524.87" rx="2.74" ry="6.39" fill="#18a0f0"/>
<ellipse cx="938.74" cy="515.74" rx="4.57" ry="2.74" fill="#18a0f0"/>
<ellipse cx="845.61" cy="456.39" rx="3.29" ry="1.83" fill="#ee0000"/>
<ellipse cx="851.09" cy="473.74" rx="6.39" ry="4.02" fill="#ee0000"/>
<ellipse cx="866.61" cy="470.09" rx="7.3" ry="7.3" fill="#ee0000"/>
<ellipse cx="880.31" cy="463.7" rx="5.48" ry="2.74" fill="#ee0000"/>
<ellipse cx="853.83" cy="486.52" rx="7.3" ry="10.04" fill="#ee0000"/>
<ellipse cx="867.52" cy="481.04" rx="2.19" ry="2.19" fill="#ee0000"/>
<ellipse cx="902.22" cy="488.35" rx="4.57" ry="5.48" fill="#ee0000"/>
<ellipse cx="891.26" cy="479.22" rx="10.04" ry="3.65" fill="#ee0000"/>
<ellipse cx="894" cy="502.05" rx="5.48" ry="7.3" fill="#ee0000"/>
<ellipse cx="908.61" cy="479.22" rx="9.13" ry="5.48" fill="#ee0000"/>
<ellipse cx="911.35" cy="490.18" rx="7.3" ry="4.57" fill="#ee0000"/>
<ellipse cx="906.79" cy="498.39" rx="3.29" ry="2.74" fill="#ee0000"/>
<ellipse cx="916.83" cy="528.52" rx="3.29" ry="3.29" fill="#ee0000"/>
<ellipse cx="945.13" cy="471.91" rx="4.57" ry="3.65" fill="#ee0000"/>
<ellipse cx="936" cy="489.26" rx="6.39" ry="6.39" fill="#ee0000"/>
<ellipse cx="946.05" cy="486.52" rx="4.57" ry="9.13" fill="#ee0000"/>
<ellipse cx="958.83" cy="481.96" rx="5.48" ry="4.57" fill="#ee0000"/>
<ellipse cx="935.09" cy="500.22" rx="3.65" ry="3.65" fill="#ee0000"/>
<ellipse cx="978.92" cy="473.74" rx="2.74" ry="1.46" fill="#ee0000"/>
<ellipse cx="907.7" cy="482.87" rx="7.3" ry="8.22" fill="#ee0000"/>
<ellipse cx="851.09" cy="495.65" rx="5.48" ry="7.3" fill="#ee0000"/>
<ellipse cx="880.31" cy="462.78" rx="8.22" ry="3.65" fill="#ee0000"/>
<ellipse cx="900.39" cy="512.09" rx="5.48" ry="4.57" fill="#ee0000"/>
<ellipse cx="853.83" cy="484.7" rx="4.57" ry="5.48" fill="#7a0000"/>
<ellipse cx="887.61" cy="473.74" rx="10.96" ry="6.39" fill="#7a0000"/>
<ellipse cx="891.26" cy="486.52" rx="10.96" ry="7.3" fill="#7a0000"/>
<ellipse cx="935.09" cy="488.35" rx="2.74" ry="2.74" fill="#7a0000"/>
<ellipse cx="946.96" cy="489.26" rx="2.19" ry="5.48" fill="#7a0000"/>
<ellipse cx="891.26" cy="471.91" rx="10.96" ry="5.48" fill="#7a0000"/>
<ellipse cx="891.26" cy="484.7" rx="10.04" ry="7.3" fill="#7a0000"/>
<ellipse cx="852.91" cy="482.87" rx="5.48" ry="8.22" fill="#7a0000"/>
</g></g>
<use href="#lk" fill="#fff"/>
<use href="#st" fill="none" stroke="#111" stroke-width="1.1" stroke-linejoin="round"/>
<use href="#ol" fill="none" stroke="#111" stroke-width="1.2" stroke-linejoin="round"/>
</g>
<rect x="831.4" y="450.6" width="186.2" height="87.7" fill="none" stroke="#333" stroke-width="1.1"/>
<path d="M847.19,450.6v2.2M847.19,538.3v-2.2M879.09,450.6v2.2M879.09,538.3v-2.2M910.99,450.6v2.2M910.99,538.3v-2.2M942.89,450.6v2.2M942.89,538.3v-2.2M974.79,450.6v2.2M974.79,538.3v-2.2M1006.69,450.6v2.2M1006.69,538.3v-2.2M831.4,535.9h2.2M1017.6,535.9h-2.2M831.4,518.87h2.2M1017.6,518.87h-2.2M831.4,501.85h2.2M1017.6,501.85h-2.2M831.4,484.82h2.2M1017.6,484.82h-2.2M831.4,467.8h2.2M1017.6,467.8h-2.2" stroke="#333" stroke-width="1" fill="none"/>
<text class="t" x="845.19" y="556.1" text-anchor="middle">-120</text>
<text class="t" x="877.09" y="556.1" text-anchor="middle">-110</text>
<text class="t" x="908.99" y="556.1" text-anchor="middle">-100</text>
<text class="t" x="940.89" y="556.1" text-anchor="middle">-90</text>
<text class="t" x="972.79" y="556.1" text-anchor="middle">-80</text>
<text class="t" x="1004.69" y="556.1" text-anchor="middle">-70</text>
<text class="t" x="826.9" y="540.1" text-anchor="end">25</text>
<text class="t" x="826.9" y="523.07" text-anchor="end">30</text>
<text class="t" x="826.9" y="506.05" text-anchor="end">35</text>
<text class="t" x="826.9" y="489.02" text-anchor="end">40</text>
<text class="t" x="826.9" y="472" text-anchor="end">45</text>
<text class="pl" x="912.6" y="445.1" text-anchor="middle">(p)</text>
<text class="ct" x="192.2" y="18" text-anchor="middle" textLength="196" lengthAdjust="spacingAndGlyphs">USDM drought Cat.</text>
<text class="ct" x="423.7" y="18" text-anchor="middle">SPI3</text>
<text class="ct" x="658.5" y="18" text-anchor="middle">SPEI3</text>
<text class="ct" x="910.3" y="18" text-anchor="middle">SVPD3</text>
<text class="ct" transform="translate(17.7,105.5) rotate(-90)" text-anchor="middle" textLength="44" lengthAdjust="spacingAndGlyphs">May</text>
<text class="ct" transform="translate(17.7,235.2) rotate(-90)" text-anchor="middle">June</text>
<text class="ct" transform="translate(17.7,361.9) rotate(-90)" text-anchor="middle">July</text>
<text class="ct" transform="translate(17.7,489.2) rotate(-90)" text-anchor="middle">August</text>
<text transform="translate(55.3,297.7) rotate(-90)" text-anchor="middle" font-size="16.2" fill="#111">Latitude</text>
<text x="546.7" y="581.7" text-anchor="middle" font-size="16.5" fill="#262626">Longitude</text>
<rect x="108.5" y="600" width="14.8" height="10" fill="#ffffff"/>
<rect x="123" y="600" width="26.3" height="10" fill="#ffff00"/>
<rect x="149" y="600" width="24.8" height="10" fill="#ffd08a"/>
<rect x="173.5" y="600" width="27.2" height="10" fill="#ffa500"/>
<rect x="200.4" y="600" width="25.9" height="10" fill="#ee0000"/>
<rect x="226" y="600" width="25.8" height="10" fill="#800000"/>
<path d="M108.5,600.3H252M108.5,609.7H252M251.8,600.3V609.7" fill="none" stroke="#111" stroke-width="1.4"/>
<path d="M109,600.5h3l-1.5,2zM109,609.5h3l-1.5,-2z" fill="#111"/>
<text x="136" y="627" text-anchor="middle" font-size="14" fill="#262626">0</text>
<text x="165.6" y="627" text-anchor="middle" font-size="14" fill="#262626">1</text>
<text x="190.2" y="627" text-anchor="middle" font-size="14" fill="#262626">2</text>
<text x="211.3" y="627" text-anchor="middle" font-size="14" fill="#262626">3</text>
<text x="237.6" y="627" text-anchor="middle" font-size="14" fill="#262626">4</text>
<line x1="327" y1="605.5" x2="542" y2="605.5" stroke="#111" stroke-width="1.8"/>
<rect x="577.2" y="599" width="16.8" height="11" fill="#0a0af0"/>
<rect x="593.7" y="599" width="16.7" height="11" fill="#1464fa"/>
<rect x="610.1" y="599" width="17.7" height="11" fill="#1e96e6"/>
<rect x="627.5" y="599" width="16.6" height="11" fill="#00c8f5"/>
<rect x="643.8" y="599" width="16.6" height="11" fill="#5aeaa0"/>
<rect x="660.1" y="599" width="16.8" height="11" fill="#ffffff"/>
<rect x="676.6" y="599" width="16.7" height="11" fill="#ffff00"/>
<rect x="693" y="599" width="16.8" height="11" fill="#ffd08a"/>
<rect x="709.5" y="599" width="17.3" height="11" fill="#ffa500"/>
<rect x="726.5" y="599" width="16.8" height="11" fill="#e80000"/>
<rect x="743" y="599" width="18.2" height="11" fill="#800000"/>
<rect x="577.6" y="599.2" width="182.8" height="10.6" fill="none" stroke="#111" stroke-width="1.4"/>
<path d="M601.8,599.5h2.4l-1.2,2zM601.8,609.5h2.4l-1.2,-2zM667.3,599.5h2.4l-1.2,2zM667.3,609.5h2.4l-1.2,-2zM732.5,599.5h2.4l-1.2,2zM732.5,609.5h2.4l-1.2,-2z" fill="#111"/>
<text x="600.8" y="627" text-anchor="middle" font-size="14" fill="#262626">-2</text>
<text x="668.5" y="627" text-anchor="middle" font-size="14" fill="#262626">0</text>
<text x="735" y="627" text-anchor="middle" font-size="14" fill="#262626">2</text>
<line x1="789" y1="605" x2="1004" y2="605" stroke="#111" stroke-width="1.8"/>
</svg></body></html>
